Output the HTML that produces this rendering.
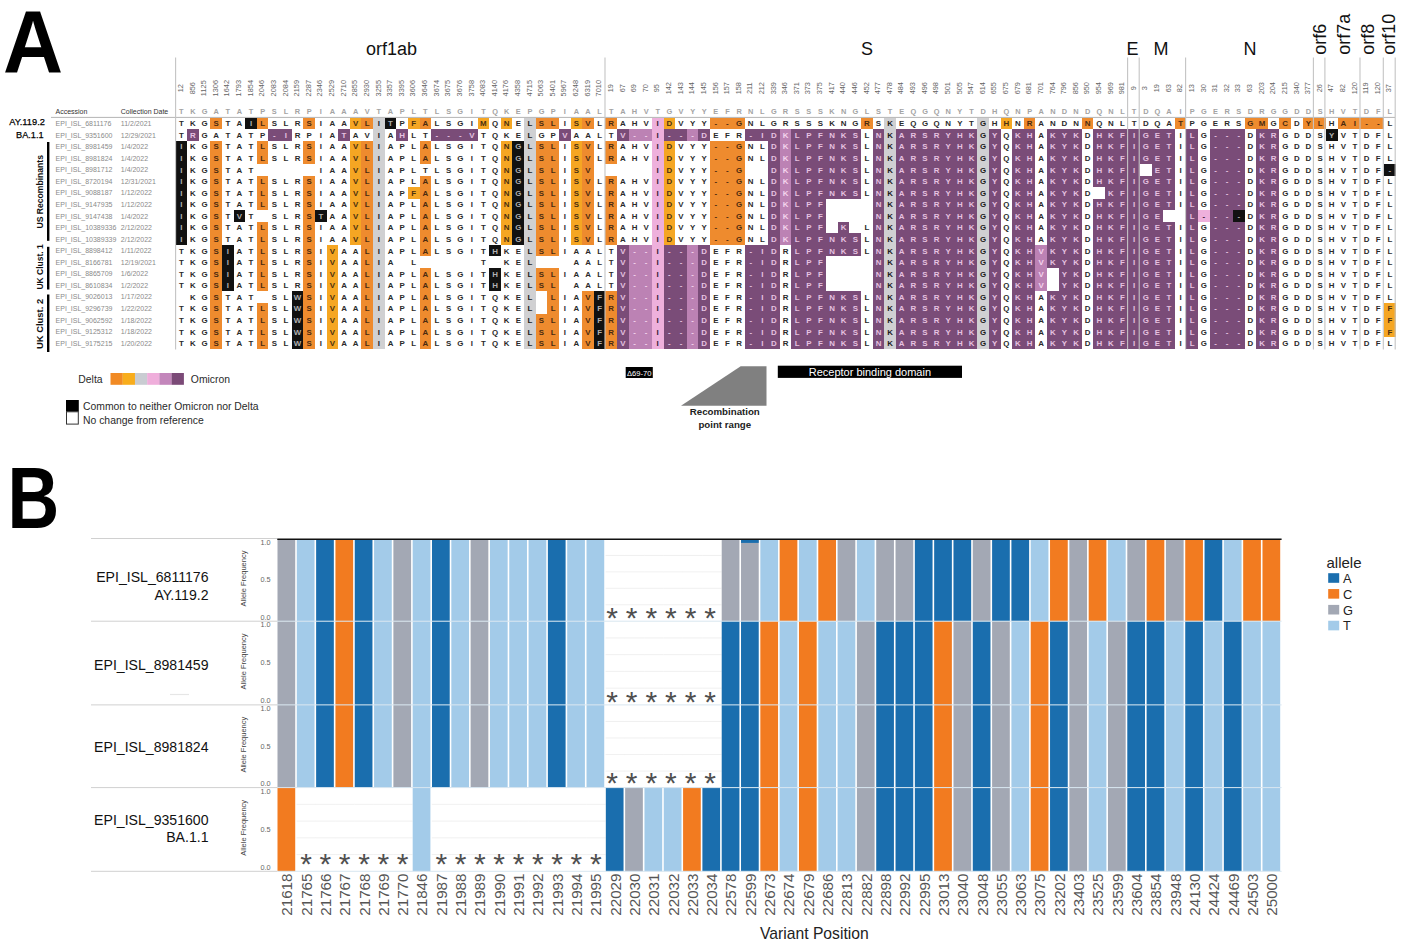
<!DOCTYPE html>
<html><head><meta charset="utf-8"><title>Figure</title>
<style>html,body{margin:0;padding:0;background:#fff;overflow:hidden;}svg{display:block;}text{font-family:"Liberation Sans", Arial, sans-serif;}</style></head><body>
<svg width="1404" height="945" viewBox="0 0 1404 945">
<rect x="0" y="0" width="1404" height="945" fill="#fff"/>
<text transform="translate(2.9 72.6) scale(0.935 1)" font-size="89" font-weight="bold" fill="#000">A</text>
<text transform="translate(7.5 528.4) scale(0.815 1)" font-size="87.9" font-weight="bold" fill="#000">B</text>
<rect x="210.36" y="117.70" width="11.62" height="11.56" fill="#ee8b2e" shape-rendering="crispEdges"/>
<rect x="245.22" y="117.70" width="11.62" height="11.56" fill="#111111" shape-rendering="crispEdges"/>
<rect x="256.84" y="117.70" width="11.62" height="11.56" fill="#ee8b2e" shape-rendering="crispEdges"/>
<rect x="303.32" y="117.70" width="11.62" height="11.56" fill="#ee8b2e" shape-rendering="crispEdges"/>
<rect x="349.80" y="117.70" width="11.62" height="11.56" fill="#f5a623" shape-rendering="crispEdges"/>
<rect x="361.42" y="117.70" width="11.62" height="11.56" fill="#ee8b2e" shape-rendering="crispEdges"/>
<rect x="373.04" y="117.70" width="11.62" height="11.56" fill="#d0d0d2" shape-rendering="crispEdges"/>
<rect x="384.66" y="117.70" width="11.62" height="11.56" fill="#111111" shape-rendering="crispEdges"/>
<rect x="407.90" y="117.70" width="11.62" height="11.56" fill="#f5a623" shape-rendering="crispEdges"/>
<rect x="419.52" y="117.70" width="11.62" height="11.56" fill="#ee8b2e" shape-rendering="crispEdges"/>
<rect x="477.62" y="117.70" width="11.62" height="11.56" fill="#f5a623" shape-rendering="crispEdges"/>
<rect x="500.86" y="117.70" width="11.62" height="11.56" fill="#f5a623" shape-rendering="crispEdges"/>
<rect x="524.10" y="117.70" width="11.62" height="11.56" fill="#d0d0d2" shape-rendering="crispEdges"/>
<rect x="535.72" y="117.70" width="23.24" height="11.56" fill="#ee8b2e" shape-rendering="crispEdges"/>
<rect x="570.58" y="117.70" width="11.62" height="11.56" fill="#f5a623" shape-rendering="crispEdges"/>
<rect x="582.20" y="117.70" width="11.62" height="11.56" fill="#ee8b2e" shape-rendering="crispEdges"/>
<rect x="605.44" y="117.70" width="11.62" height="11.56" fill="#ee8b2e" shape-rendering="crispEdges"/>
<rect x="651.92" y="117.70" width="11.62" height="11.56" fill="#eeb0dc" shape-rendering="crispEdges"/>
<rect x="663.54" y="117.70" width="11.62" height="11.56" fill="#f5a623" shape-rendering="crispEdges"/>
<rect x="710.02" y="117.70" width="34.86" height="11.56" fill="#ee8b2e" shape-rendering="crispEdges"/>
<rect x="861.08" y="117.70" width="11.62" height="11.56" fill="#ee8b2e" shape-rendering="crispEdges"/>
<rect x="884.32" y="117.70" width="11.62" height="11.56" fill="#d0d0d2" shape-rendering="crispEdges"/>
<rect x="977.28" y="117.70" width="11.62" height="11.56" fill="#d0d0d2" shape-rendering="crispEdges"/>
<rect x="1000.52" y="117.70" width="11.62" height="11.56" fill="#f5a623" shape-rendering="crispEdges"/>
<rect x="1023.76" y="117.70" width="11.62" height="11.56" fill="#ee8b2e" shape-rendering="crispEdges"/>
<rect x="1081.86" y="117.70" width="11.62" height="11.56" fill="#ee8b2e" shape-rendering="crispEdges"/>
<rect x="1174.82" y="117.70" width="11.62" height="11.56" fill="#ee8b2e" shape-rendering="crispEdges"/>
<rect x="1244.54" y="117.70" width="23.24" height="11.56" fill="#ee8b2e" shape-rendering="crispEdges"/>
<rect x="1279.40" y="117.70" width="11.62" height="11.56" fill="#ee8b2e" shape-rendering="crispEdges"/>
<rect x="1302.64" y="117.70" width="23.24" height="11.56" fill="#ee8b2e" shape-rendering="crispEdges"/>
<rect x="1337.50" y="117.70" width="46.48" height="11.56" fill="#ee8b2e" shape-rendering="crispEdges"/>
<rect x="187.12" y="129.27" width="11.62" height="11.56" fill="#7a4c78" shape-rendering="crispEdges"/>
<rect x="268.46" y="129.27" width="23.24" height="11.56" fill="#7a4c78" shape-rendering="crispEdges"/>
<rect x="338.18" y="129.27" width="11.62" height="11.56" fill="#7a4c78" shape-rendering="crispEdges"/>
<rect x="373.04" y="129.27" width="11.62" height="11.56" fill="#d0d0d2" shape-rendering="crispEdges"/>
<rect x="396.28" y="129.27" width="11.62" height="11.56" fill="#7a4c78" shape-rendering="crispEdges"/>
<rect x="431.14" y="129.27" width="46.48" height="11.56" fill="#7a4c78" shape-rendering="crispEdges"/>
<rect x="524.10" y="129.27" width="11.62" height="11.56" fill="#d0d0d2" shape-rendering="crispEdges"/>
<rect x="558.96" y="129.27" width="11.62" height="11.56" fill="#7a4c78" shape-rendering="crispEdges"/>
<rect x="617.06" y="129.27" width="11.62" height="11.56" fill="#7a4c78" shape-rendering="crispEdges"/>
<rect x="628.68" y="129.27" width="23.24" height="11.56" fill="#bc82b4" shape-rendering="crispEdges"/>
<rect x="651.92" y="129.27" width="11.62" height="11.56" fill="#eeb0dc" shape-rendering="crispEdges"/>
<rect x="663.54" y="129.27" width="23.24" height="11.56" fill="#7a4c78" shape-rendering="crispEdges"/>
<rect x="686.78" y="129.27" width="11.62" height="11.56" fill="#bc82b4" shape-rendering="crispEdges"/>
<rect x="698.40" y="129.27" width="11.62" height="11.56" fill="#7a4c78" shape-rendering="crispEdges"/>
<rect x="744.88" y="129.27" width="34.86" height="11.56" fill="#7a4c78" shape-rendering="crispEdges"/>
<rect x="779.74" y="129.27" width="11.62" height="11.56" fill="#bc82b4" shape-rendering="crispEdges"/>
<rect x="791.36" y="129.27" width="69.72" height="11.56" fill="#7a4c78" shape-rendering="crispEdges"/>
<rect x="872.70" y="129.27" width="11.62" height="11.56" fill="#7a4c78" shape-rendering="crispEdges"/>
<rect x="884.32" y="129.27" width="11.62" height="11.56" fill="#d0d0d2" shape-rendering="crispEdges"/>
<rect x="895.94" y="129.27" width="81.34" height="11.56" fill="#7a4c78" shape-rendering="crispEdges"/>
<rect x="977.28" y="129.27" width="11.62" height="11.56" fill="#d0d0d2" shape-rendering="crispEdges"/>
<rect x="988.90" y="129.27" width="11.62" height="11.56" fill="#7a4c78" shape-rendering="crispEdges"/>
<rect x="1012.14" y="129.27" width="23.24" height="11.56" fill="#7a4c78" shape-rendering="crispEdges"/>
<rect x="1047.00" y="129.27" width="34.86" height="11.56" fill="#7a4c78" shape-rendering="crispEdges"/>
<rect x="1093.48" y="129.27" width="81.34" height="11.56" fill="#7a4c78" shape-rendering="crispEdges"/>
<rect x="1186.44" y="129.27" width="11.62" height="11.56" fill="#7a4c78" shape-rendering="crispEdges"/>
<rect x="1209.68" y="129.27" width="34.86" height="11.56" fill="#7a4c78" shape-rendering="crispEdges"/>
<rect x="1256.16" y="129.27" width="23.24" height="11.56" fill="#7a4c78" shape-rendering="crispEdges"/>
<rect x="1325.88" y="129.27" width="11.62" height="11.56" fill="#111111" shape-rendering="crispEdges"/>
<rect x="175.50" y="140.83" width="11.62" height="11.56" fill="#111111" shape-rendering="crispEdges"/>
<rect x="210.36" y="140.83" width="11.62" height="11.56" fill="#ee8b2e" shape-rendering="crispEdges"/>
<rect x="256.84" y="140.83" width="11.62" height="11.56" fill="#ee8b2e" shape-rendering="crispEdges"/>
<rect x="303.32" y="140.83" width="11.62" height="11.56" fill="#ee8b2e" shape-rendering="crispEdges"/>
<rect x="349.80" y="140.83" width="11.62" height="11.56" fill="#f5a623" shape-rendering="crispEdges"/>
<rect x="361.42" y="140.83" width="11.62" height="11.56" fill="#ee8b2e" shape-rendering="crispEdges"/>
<rect x="373.04" y="140.83" width="11.62" height="11.56" fill="#d0d0d2" shape-rendering="crispEdges"/>
<rect x="419.52" y="140.83" width="11.62" height="11.56" fill="#ee8b2e" shape-rendering="crispEdges"/>
<rect x="500.86" y="140.83" width="11.62" height="11.56" fill="#f5a623" shape-rendering="crispEdges"/>
<rect x="512.48" y="140.83" width="11.62" height="11.56" fill="#111111" shape-rendering="crispEdges"/>
<rect x="524.10" y="140.83" width="11.62" height="11.56" fill="#d0d0d2" shape-rendering="crispEdges"/>
<rect x="535.72" y="140.83" width="23.24" height="11.56" fill="#ee8b2e" shape-rendering="crispEdges"/>
<rect x="570.58" y="140.83" width="11.62" height="11.56" fill="#f5a623" shape-rendering="crispEdges"/>
<rect x="582.20" y="140.83" width="11.62" height="11.56" fill="#ee8b2e" shape-rendering="crispEdges"/>
<rect x="605.44" y="140.83" width="11.62" height="11.56" fill="#ee8b2e" shape-rendering="crispEdges"/>
<rect x="651.92" y="140.83" width="11.62" height="11.56" fill="#eeb0dc" shape-rendering="crispEdges"/>
<rect x="663.54" y="140.83" width="11.62" height="11.56" fill="#f5a623" shape-rendering="crispEdges"/>
<rect x="710.02" y="140.83" width="34.86" height="11.56" fill="#ee8b2e" shape-rendering="crispEdges"/>
<rect x="768.12" y="140.83" width="11.62" height="11.56" fill="#7a4c78" shape-rendering="crispEdges"/>
<rect x="779.74" y="140.83" width="11.62" height="11.56" fill="#bc82b4" shape-rendering="crispEdges"/>
<rect x="791.36" y="140.83" width="69.72" height="11.56" fill="#7a4c78" shape-rendering="crispEdges"/>
<rect x="872.70" y="140.83" width="11.62" height="11.56" fill="#7a4c78" shape-rendering="crispEdges"/>
<rect x="884.32" y="140.83" width="11.62" height="11.56" fill="#d0d0d2" shape-rendering="crispEdges"/>
<rect x="895.94" y="140.83" width="81.34" height="11.56" fill="#7a4c78" shape-rendering="crispEdges"/>
<rect x="977.28" y="140.83" width="11.62" height="11.56" fill="#d0d0d2" shape-rendering="crispEdges"/>
<rect x="988.90" y="140.83" width="11.62" height="11.56" fill="#7a4c78" shape-rendering="crispEdges"/>
<rect x="1012.14" y="140.83" width="23.24" height="11.56" fill="#7a4c78" shape-rendering="crispEdges"/>
<rect x="1047.00" y="140.83" width="34.86" height="11.56" fill="#7a4c78" shape-rendering="crispEdges"/>
<rect x="1093.48" y="140.83" width="81.34" height="11.56" fill="#7a4c78" shape-rendering="crispEdges"/>
<rect x="1186.44" y="140.83" width="11.62" height="11.56" fill="#7a4c78" shape-rendering="crispEdges"/>
<rect x="1209.68" y="140.83" width="34.86" height="11.56" fill="#7a4c78" shape-rendering="crispEdges"/>
<rect x="1256.16" y="140.83" width="23.24" height="11.56" fill="#7a4c78" shape-rendering="crispEdges"/>
<rect x="175.50" y="152.40" width="11.62" height="11.56" fill="#111111" shape-rendering="crispEdges"/>
<rect x="210.36" y="152.40" width="11.62" height="11.56" fill="#ee8b2e" shape-rendering="crispEdges"/>
<rect x="256.84" y="152.40" width="11.62" height="11.56" fill="#ee8b2e" shape-rendering="crispEdges"/>
<rect x="303.32" y="152.40" width="11.62" height="11.56" fill="#ee8b2e" shape-rendering="crispEdges"/>
<rect x="349.80" y="152.40" width="11.62" height="11.56" fill="#f5a623" shape-rendering="crispEdges"/>
<rect x="361.42" y="152.40" width="11.62" height="11.56" fill="#ee8b2e" shape-rendering="crispEdges"/>
<rect x="373.04" y="152.40" width="11.62" height="11.56" fill="#d0d0d2" shape-rendering="crispEdges"/>
<rect x="419.52" y="152.40" width="11.62" height="11.56" fill="#ee8b2e" shape-rendering="crispEdges"/>
<rect x="500.86" y="152.40" width="11.62" height="11.56" fill="#f5a623" shape-rendering="crispEdges"/>
<rect x="512.48" y="152.40" width="11.62" height="11.56" fill="#111111" shape-rendering="crispEdges"/>
<rect x="524.10" y="152.40" width="11.62" height="11.56" fill="#d0d0d2" shape-rendering="crispEdges"/>
<rect x="535.72" y="152.40" width="23.24" height="11.56" fill="#ee8b2e" shape-rendering="crispEdges"/>
<rect x="570.58" y="152.40" width="11.62" height="11.56" fill="#f5a623" shape-rendering="crispEdges"/>
<rect x="582.20" y="152.40" width="11.62" height="11.56" fill="#ee8b2e" shape-rendering="crispEdges"/>
<rect x="605.44" y="152.40" width="11.62" height="11.56" fill="#ee8b2e" shape-rendering="crispEdges"/>
<rect x="651.92" y="152.40" width="11.62" height="11.56" fill="#eeb0dc" shape-rendering="crispEdges"/>
<rect x="663.54" y="152.40" width="11.62" height="11.56" fill="#f5a623" shape-rendering="crispEdges"/>
<rect x="710.02" y="152.40" width="34.86" height="11.56" fill="#ee8b2e" shape-rendering="crispEdges"/>
<rect x="768.12" y="152.40" width="11.62" height="11.56" fill="#7a4c78" shape-rendering="crispEdges"/>
<rect x="779.74" y="152.40" width="11.62" height="11.56" fill="#bc82b4" shape-rendering="crispEdges"/>
<rect x="791.36" y="152.40" width="69.72" height="11.56" fill="#7a4c78" shape-rendering="crispEdges"/>
<rect x="872.70" y="152.40" width="11.62" height="11.56" fill="#7a4c78" shape-rendering="crispEdges"/>
<rect x="884.32" y="152.40" width="11.62" height="11.56" fill="#d0d0d2" shape-rendering="crispEdges"/>
<rect x="895.94" y="152.40" width="81.34" height="11.56" fill="#7a4c78" shape-rendering="crispEdges"/>
<rect x="977.28" y="152.40" width="11.62" height="11.56" fill="#d0d0d2" shape-rendering="crispEdges"/>
<rect x="988.90" y="152.40" width="11.62" height="11.56" fill="#7a4c78" shape-rendering="crispEdges"/>
<rect x="1012.14" y="152.40" width="23.24" height="11.56" fill="#7a4c78" shape-rendering="crispEdges"/>
<rect x="1047.00" y="152.40" width="34.86" height="11.56" fill="#7a4c78" shape-rendering="crispEdges"/>
<rect x="1093.48" y="152.40" width="81.34" height="11.56" fill="#7a4c78" shape-rendering="crispEdges"/>
<rect x="1186.44" y="152.40" width="11.62" height="11.56" fill="#7a4c78" shape-rendering="crispEdges"/>
<rect x="1209.68" y="152.40" width="34.86" height="11.56" fill="#7a4c78" shape-rendering="crispEdges"/>
<rect x="1256.16" y="152.40" width="23.24" height="11.56" fill="#7a4c78" shape-rendering="crispEdges"/>
<rect x="175.50" y="163.96" width="11.62" height="11.56" fill="#111111" shape-rendering="crispEdges"/>
<rect x="210.36" y="163.96" width="11.62" height="11.56" fill="#ee8b2e" shape-rendering="crispEdges"/>
<rect x="349.80" y="163.96" width="11.62" height="11.56" fill="#f5a623" shape-rendering="crispEdges"/>
<rect x="361.42" y="163.96" width="11.62" height="11.56" fill="#ee8b2e" shape-rendering="crispEdges"/>
<rect x="373.04" y="163.96" width="11.62" height="11.56" fill="#d0d0d2" shape-rendering="crispEdges"/>
<rect x="500.86" y="163.96" width="11.62" height="11.56" fill="#f5a623" shape-rendering="crispEdges"/>
<rect x="512.48" y="163.96" width="11.62" height="11.56" fill="#111111" shape-rendering="crispEdges"/>
<rect x="524.10" y="163.96" width="11.62" height="11.56" fill="#d0d0d2" shape-rendering="crispEdges"/>
<rect x="535.72" y="163.96" width="23.24" height="11.56" fill="#ee8b2e" shape-rendering="crispEdges"/>
<rect x="570.58" y="163.96" width="11.62" height="11.56" fill="#f5a623" shape-rendering="crispEdges"/>
<rect x="582.20" y="163.96" width="11.62" height="11.56" fill="#ee8b2e" shape-rendering="crispEdges"/>
<rect x="651.92" y="163.96" width="11.62" height="11.56" fill="#eeb0dc" shape-rendering="crispEdges"/>
<rect x="663.54" y="163.96" width="11.62" height="11.56" fill="#f5a623" shape-rendering="crispEdges"/>
<rect x="710.02" y="163.96" width="34.86" height="11.56" fill="#ee8b2e" shape-rendering="crispEdges"/>
<rect x="768.12" y="163.96" width="11.62" height="11.56" fill="#7a4c78" shape-rendering="crispEdges"/>
<rect x="779.74" y="163.96" width="11.62" height="11.56" fill="#bc82b4" shape-rendering="crispEdges"/>
<rect x="791.36" y="163.96" width="69.72" height="11.56" fill="#7a4c78" shape-rendering="crispEdges"/>
<rect x="872.70" y="163.96" width="11.62" height="11.56" fill="#7a4c78" shape-rendering="crispEdges"/>
<rect x="884.32" y="163.96" width="11.62" height="11.56" fill="#d0d0d2" shape-rendering="crispEdges"/>
<rect x="895.94" y="163.96" width="81.34" height="11.56" fill="#7a4c78" shape-rendering="crispEdges"/>
<rect x="977.28" y="163.96" width="11.62" height="11.56" fill="#d0d0d2" shape-rendering="crispEdges"/>
<rect x="988.90" y="163.96" width="11.62" height="11.56" fill="#7a4c78" shape-rendering="crispEdges"/>
<rect x="1012.14" y="163.96" width="23.24" height="11.56" fill="#7a4c78" shape-rendering="crispEdges"/>
<rect x="1047.00" y="163.96" width="34.86" height="11.56" fill="#7a4c78" shape-rendering="crispEdges"/>
<rect x="1093.48" y="163.96" width="46.48" height="11.56" fill="#7a4c78" shape-rendering="crispEdges"/>
<rect x="1151.58" y="163.96" width="23.24" height="11.56" fill="#7a4c78" shape-rendering="crispEdges"/>
<rect x="1186.44" y="163.96" width="11.62" height="11.56" fill="#7a4c78" shape-rendering="crispEdges"/>
<rect x="1209.68" y="163.96" width="34.86" height="11.56" fill="#7a4c78" shape-rendering="crispEdges"/>
<rect x="1256.16" y="163.96" width="23.24" height="11.56" fill="#7a4c78" shape-rendering="crispEdges"/>
<rect x="1383.98" y="163.96" width="11.62" height="11.56" fill="#111111" shape-rendering="crispEdges"/>
<rect x="175.50" y="175.53" width="11.62" height="11.56" fill="#111111" shape-rendering="crispEdges"/>
<rect x="210.36" y="175.53" width="11.62" height="11.56" fill="#ee8b2e" shape-rendering="crispEdges"/>
<rect x="256.84" y="175.53" width="11.62" height="11.56" fill="#ee8b2e" shape-rendering="crispEdges"/>
<rect x="303.32" y="175.53" width="11.62" height="11.56" fill="#ee8b2e" shape-rendering="crispEdges"/>
<rect x="349.80" y="175.53" width="11.62" height="11.56" fill="#f5a623" shape-rendering="crispEdges"/>
<rect x="361.42" y="175.53" width="11.62" height="11.56" fill="#ee8b2e" shape-rendering="crispEdges"/>
<rect x="373.04" y="175.53" width="11.62" height="11.56" fill="#d0d0d2" shape-rendering="crispEdges"/>
<rect x="419.52" y="175.53" width="11.62" height="11.56" fill="#ee8b2e" shape-rendering="crispEdges"/>
<rect x="500.86" y="175.53" width="11.62" height="11.56" fill="#f5a623" shape-rendering="crispEdges"/>
<rect x="512.48" y="175.53" width="11.62" height="11.56" fill="#111111" shape-rendering="crispEdges"/>
<rect x="524.10" y="175.53" width="11.62" height="11.56" fill="#d0d0d2" shape-rendering="crispEdges"/>
<rect x="535.72" y="175.53" width="23.24" height="11.56" fill="#ee8b2e" shape-rendering="crispEdges"/>
<rect x="570.58" y="175.53" width="11.62" height="11.56" fill="#f5a623" shape-rendering="crispEdges"/>
<rect x="582.20" y="175.53" width="11.62" height="11.56" fill="#ee8b2e" shape-rendering="crispEdges"/>
<rect x="605.44" y="175.53" width="11.62" height="11.56" fill="#ee8b2e" shape-rendering="crispEdges"/>
<rect x="651.92" y="175.53" width="11.62" height="11.56" fill="#eeb0dc" shape-rendering="crispEdges"/>
<rect x="663.54" y="175.53" width="11.62" height="11.56" fill="#f5a623" shape-rendering="crispEdges"/>
<rect x="710.02" y="175.53" width="34.86" height="11.56" fill="#ee8b2e" shape-rendering="crispEdges"/>
<rect x="768.12" y="175.53" width="11.62" height="11.56" fill="#7a4c78" shape-rendering="crispEdges"/>
<rect x="779.74" y="175.53" width="11.62" height="11.56" fill="#bc82b4" shape-rendering="crispEdges"/>
<rect x="791.36" y="175.53" width="69.72" height="11.56" fill="#7a4c78" shape-rendering="crispEdges"/>
<rect x="872.70" y="175.53" width="11.62" height="11.56" fill="#7a4c78" shape-rendering="crispEdges"/>
<rect x="884.32" y="175.53" width="11.62" height="11.56" fill="#d0d0d2" shape-rendering="crispEdges"/>
<rect x="895.94" y="175.53" width="81.34" height="11.56" fill="#7a4c78" shape-rendering="crispEdges"/>
<rect x="977.28" y="175.53" width="11.62" height="11.56" fill="#d0d0d2" shape-rendering="crispEdges"/>
<rect x="988.90" y="175.53" width="11.62" height="11.56" fill="#7a4c78" shape-rendering="crispEdges"/>
<rect x="1012.14" y="175.53" width="23.24" height="11.56" fill="#7a4c78" shape-rendering="crispEdges"/>
<rect x="1047.00" y="175.53" width="34.86" height="11.56" fill="#7a4c78" shape-rendering="crispEdges"/>
<rect x="1093.48" y="175.53" width="81.34" height="11.56" fill="#7a4c78" shape-rendering="crispEdges"/>
<rect x="1186.44" y="175.53" width="11.62" height="11.56" fill="#7a4c78" shape-rendering="crispEdges"/>
<rect x="1209.68" y="175.53" width="34.86" height="11.56" fill="#7a4c78" shape-rendering="crispEdges"/>
<rect x="1256.16" y="175.53" width="23.24" height="11.56" fill="#7a4c78" shape-rendering="crispEdges"/>
<rect x="175.50" y="187.09" width="11.62" height="11.56" fill="#111111" shape-rendering="crispEdges"/>
<rect x="210.36" y="187.09" width="11.62" height="11.56" fill="#ee8b2e" shape-rendering="crispEdges"/>
<rect x="256.84" y="187.09" width="11.62" height="11.56" fill="#ee8b2e" shape-rendering="crispEdges"/>
<rect x="303.32" y="187.09" width="11.62" height="11.56" fill="#ee8b2e" shape-rendering="crispEdges"/>
<rect x="349.80" y="187.09" width="11.62" height="11.56" fill="#f5a623" shape-rendering="crispEdges"/>
<rect x="361.42" y="187.09" width="11.62" height="11.56" fill="#ee8b2e" shape-rendering="crispEdges"/>
<rect x="373.04" y="187.09" width="11.62" height="11.56" fill="#d0d0d2" shape-rendering="crispEdges"/>
<rect x="407.90" y="187.09" width="11.62" height="11.56" fill="#f5a623" shape-rendering="crispEdges"/>
<rect x="419.52" y="187.09" width="11.62" height="11.56" fill="#ee8b2e" shape-rendering="crispEdges"/>
<rect x="500.86" y="187.09" width="11.62" height="11.56" fill="#f5a623" shape-rendering="crispEdges"/>
<rect x="512.48" y="187.09" width="11.62" height="11.56" fill="#111111" shape-rendering="crispEdges"/>
<rect x="524.10" y="187.09" width="11.62" height="11.56" fill="#d0d0d2" shape-rendering="crispEdges"/>
<rect x="535.72" y="187.09" width="23.24" height="11.56" fill="#ee8b2e" shape-rendering="crispEdges"/>
<rect x="570.58" y="187.09" width="11.62" height="11.56" fill="#f5a623" shape-rendering="crispEdges"/>
<rect x="582.20" y="187.09" width="11.62" height="11.56" fill="#ee8b2e" shape-rendering="crispEdges"/>
<rect x="605.44" y="187.09" width="11.62" height="11.56" fill="#ee8b2e" shape-rendering="crispEdges"/>
<rect x="651.92" y="187.09" width="11.62" height="11.56" fill="#eeb0dc" shape-rendering="crispEdges"/>
<rect x="663.54" y="187.09" width="11.62" height="11.56" fill="#f5a623" shape-rendering="crispEdges"/>
<rect x="710.02" y="187.09" width="34.86" height="11.56" fill="#ee8b2e" shape-rendering="crispEdges"/>
<rect x="768.12" y="187.09" width="11.62" height="11.56" fill="#7a4c78" shape-rendering="crispEdges"/>
<rect x="779.74" y="187.09" width="11.62" height="11.56" fill="#bc82b4" shape-rendering="crispEdges"/>
<rect x="791.36" y="187.09" width="69.72" height="11.56" fill="#7a4c78" shape-rendering="crispEdges"/>
<rect x="872.70" y="187.09" width="11.62" height="11.56" fill="#7a4c78" shape-rendering="crispEdges"/>
<rect x="884.32" y="187.09" width="11.62" height="11.56" fill="#d0d0d2" shape-rendering="crispEdges"/>
<rect x="895.94" y="187.09" width="81.34" height="11.56" fill="#7a4c78" shape-rendering="crispEdges"/>
<rect x="977.28" y="187.09" width="11.62" height="11.56" fill="#d0d0d2" shape-rendering="crispEdges"/>
<rect x="988.90" y="187.09" width="11.62" height="11.56" fill="#7a4c78" shape-rendering="crispEdges"/>
<rect x="1012.14" y="187.09" width="23.24" height="11.56" fill="#7a4c78" shape-rendering="crispEdges"/>
<rect x="1047.00" y="187.09" width="34.86" height="11.56" fill="#7a4c78" shape-rendering="crispEdges"/>
<rect x="1105.10" y="187.09" width="69.72" height="11.56" fill="#7a4c78" shape-rendering="crispEdges"/>
<rect x="1186.44" y="187.09" width="11.62" height="11.56" fill="#7a4c78" shape-rendering="crispEdges"/>
<rect x="1209.68" y="187.09" width="34.86" height="11.56" fill="#7a4c78" shape-rendering="crispEdges"/>
<rect x="1256.16" y="187.09" width="23.24" height="11.56" fill="#7a4c78" shape-rendering="crispEdges"/>
<rect x="175.50" y="198.66" width="11.62" height="11.56" fill="#111111" shape-rendering="crispEdges"/>
<rect x="210.36" y="198.66" width="11.62" height="11.56" fill="#ee8b2e" shape-rendering="crispEdges"/>
<rect x="256.84" y="198.66" width="11.62" height="11.56" fill="#ee8b2e" shape-rendering="crispEdges"/>
<rect x="303.32" y="198.66" width="11.62" height="11.56" fill="#ee8b2e" shape-rendering="crispEdges"/>
<rect x="349.80" y="198.66" width="11.62" height="11.56" fill="#f5a623" shape-rendering="crispEdges"/>
<rect x="361.42" y="198.66" width="11.62" height="11.56" fill="#ee8b2e" shape-rendering="crispEdges"/>
<rect x="373.04" y="198.66" width="11.62" height="11.56" fill="#d0d0d2" shape-rendering="crispEdges"/>
<rect x="419.52" y="198.66" width="11.62" height="11.56" fill="#ee8b2e" shape-rendering="crispEdges"/>
<rect x="500.86" y="198.66" width="11.62" height="11.56" fill="#f5a623" shape-rendering="crispEdges"/>
<rect x="512.48" y="198.66" width="11.62" height="11.56" fill="#111111" shape-rendering="crispEdges"/>
<rect x="524.10" y="198.66" width="11.62" height="11.56" fill="#d0d0d2" shape-rendering="crispEdges"/>
<rect x="535.72" y="198.66" width="23.24" height="11.56" fill="#ee8b2e" shape-rendering="crispEdges"/>
<rect x="570.58" y="198.66" width="11.62" height="11.56" fill="#f5a623" shape-rendering="crispEdges"/>
<rect x="582.20" y="198.66" width="11.62" height="11.56" fill="#ee8b2e" shape-rendering="crispEdges"/>
<rect x="605.44" y="198.66" width="11.62" height="11.56" fill="#ee8b2e" shape-rendering="crispEdges"/>
<rect x="651.92" y="198.66" width="11.62" height="11.56" fill="#eeb0dc" shape-rendering="crispEdges"/>
<rect x="663.54" y="198.66" width="11.62" height="11.56" fill="#f5a623" shape-rendering="crispEdges"/>
<rect x="710.02" y="198.66" width="34.86" height="11.56" fill="#ee8b2e" shape-rendering="crispEdges"/>
<rect x="768.12" y="198.66" width="11.62" height="11.56" fill="#7a4c78" shape-rendering="crispEdges"/>
<rect x="779.74" y="198.66" width="11.62" height="11.56" fill="#bc82b4" shape-rendering="crispEdges"/>
<rect x="791.36" y="198.66" width="34.86" height="11.56" fill="#7a4c78" shape-rendering="crispEdges"/>
<rect x="872.70" y="198.66" width="11.62" height="11.56" fill="#7a4c78" shape-rendering="crispEdges"/>
<rect x="884.32" y="198.66" width="11.62" height="11.56" fill="#d0d0d2" shape-rendering="crispEdges"/>
<rect x="895.94" y="198.66" width="81.34" height="11.56" fill="#7a4c78" shape-rendering="crispEdges"/>
<rect x="977.28" y="198.66" width="11.62" height="11.56" fill="#d0d0d2" shape-rendering="crispEdges"/>
<rect x="988.90" y="198.66" width="11.62" height="11.56" fill="#7a4c78" shape-rendering="crispEdges"/>
<rect x="1012.14" y="198.66" width="23.24" height="11.56" fill="#7a4c78" shape-rendering="crispEdges"/>
<rect x="1047.00" y="198.66" width="34.86" height="11.56" fill="#7a4c78" shape-rendering="crispEdges"/>
<rect x="1093.48" y="198.66" width="81.34" height="11.56" fill="#7a4c78" shape-rendering="crispEdges"/>
<rect x="1186.44" y="198.66" width="11.62" height="11.56" fill="#7a4c78" shape-rendering="crispEdges"/>
<rect x="1209.68" y="198.66" width="34.86" height="11.56" fill="#7a4c78" shape-rendering="crispEdges"/>
<rect x="1256.16" y="198.66" width="23.24" height="11.56" fill="#7a4c78" shape-rendering="crispEdges"/>
<rect x="175.50" y="210.22" width="11.62" height="11.56" fill="#111111" shape-rendering="crispEdges"/>
<rect x="210.36" y="210.22" width="11.62" height="11.56" fill="#ee8b2e" shape-rendering="crispEdges"/>
<rect x="233.60" y="210.22" width="11.62" height="11.56" fill="#111111" shape-rendering="crispEdges"/>
<rect x="303.32" y="210.22" width="11.62" height="11.56" fill="#ee8b2e" shape-rendering="crispEdges"/>
<rect x="314.94" y="210.22" width="11.62" height="11.56" fill="#111111" shape-rendering="crispEdges"/>
<rect x="349.80" y="210.22" width="11.62" height="11.56" fill="#f5a623" shape-rendering="crispEdges"/>
<rect x="361.42" y="210.22" width="11.62" height="11.56" fill="#ee8b2e" shape-rendering="crispEdges"/>
<rect x="373.04" y="210.22" width="11.62" height="11.56" fill="#d0d0d2" shape-rendering="crispEdges"/>
<rect x="419.52" y="210.22" width="11.62" height="11.56" fill="#ee8b2e" shape-rendering="crispEdges"/>
<rect x="500.86" y="210.22" width="11.62" height="11.56" fill="#f5a623" shape-rendering="crispEdges"/>
<rect x="512.48" y="210.22" width="11.62" height="11.56" fill="#111111" shape-rendering="crispEdges"/>
<rect x="524.10" y="210.22" width="11.62" height="11.56" fill="#d0d0d2" shape-rendering="crispEdges"/>
<rect x="535.72" y="210.22" width="23.24" height="11.56" fill="#ee8b2e" shape-rendering="crispEdges"/>
<rect x="570.58" y="210.22" width="11.62" height="11.56" fill="#f5a623" shape-rendering="crispEdges"/>
<rect x="582.20" y="210.22" width="11.62" height="11.56" fill="#ee8b2e" shape-rendering="crispEdges"/>
<rect x="605.44" y="210.22" width="11.62" height="11.56" fill="#ee8b2e" shape-rendering="crispEdges"/>
<rect x="651.92" y="210.22" width="11.62" height="11.56" fill="#eeb0dc" shape-rendering="crispEdges"/>
<rect x="663.54" y="210.22" width="11.62" height="11.56" fill="#f5a623" shape-rendering="crispEdges"/>
<rect x="710.02" y="210.22" width="34.86" height="11.56" fill="#ee8b2e" shape-rendering="crispEdges"/>
<rect x="768.12" y="210.22" width="11.62" height="11.56" fill="#7a4c78" shape-rendering="crispEdges"/>
<rect x="779.74" y="210.22" width="11.62" height="11.56" fill="#bc82b4" shape-rendering="crispEdges"/>
<rect x="791.36" y="210.22" width="34.86" height="11.56" fill="#7a4c78" shape-rendering="crispEdges"/>
<rect x="872.70" y="210.22" width="11.62" height="11.56" fill="#7a4c78" shape-rendering="crispEdges"/>
<rect x="884.32" y="210.22" width="11.62" height="11.56" fill="#d0d0d2" shape-rendering="crispEdges"/>
<rect x="895.94" y="210.22" width="81.34" height="11.56" fill="#7a4c78" shape-rendering="crispEdges"/>
<rect x="977.28" y="210.22" width="11.62" height="11.56" fill="#d0d0d2" shape-rendering="crispEdges"/>
<rect x="988.90" y="210.22" width="11.62" height="11.56" fill="#7a4c78" shape-rendering="crispEdges"/>
<rect x="1012.14" y="210.22" width="23.24" height="11.56" fill="#7a4c78" shape-rendering="crispEdges"/>
<rect x="1047.00" y="210.22" width="34.86" height="11.56" fill="#7a4c78" shape-rendering="crispEdges"/>
<rect x="1093.48" y="210.22" width="69.72" height="11.56" fill="#7a4c78" shape-rendering="crispEdges"/>
<rect x="1186.44" y="210.22" width="11.62" height="11.56" fill="#7a4c78" shape-rendering="crispEdges"/>
<rect x="1198.06" y="210.22" width="11.62" height="11.56" fill="#eeb0dc" shape-rendering="crispEdges"/>
<rect x="1209.68" y="210.22" width="23.24" height="11.56" fill="#7a4c78" shape-rendering="crispEdges"/>
<rect x="1232.92" y="210.22" width="11.62" height="11.56" fill="#111111" shape-rendering="crispEdges"/>
<rect x="1256.16" y="210.22" width="23.24" height="11.56" fill="#7a4c78" shape-rendering="crispEdges"/>
<rect x="175.50" y="221.78" width="11.62" height="11.56" fill="#111111" shape-rendering="crispEdges"/>
<rect x="210.36" y="221.78" width="11.62" height="11.56" fill="#ee8b2e" shape-rendering="crispEdges"/>
<rect x="256.84" y="221.78" width="11.62" height="11.56" fill="#ee8b2e" shape-rendering="crispEdges"/>
<rect x="303.32" y="221.78" width="11.62" height="11.56" fill="#ee8b2e" shape-rendering="crispEdges"/>
<rect x="349.80" y="221.78" width="11.62" height="11.56" fill="#f5a623" shape-rendering="crispEdges"/>
<rect x="361.42" y="221.78" width="11.62" height="11.56" fill="#ee8b2e" shape-rendering="crispEdges"/>
<rect x="373.04" y="221.78" width="11.62" height="11.56" fill="#d0d0d2" shape-rendering="crispEdges"/>
<rect x="419.52" y="221.78" width="11.62" height="11.56" fill="#ee8b2e" shape-rendering="crispEdges"/>
<rect x="500.86" y="221.78" width="11.62" height="11.56" fill="#f5a623" shape-rendering="crispEdges"/>
<rect x="512.48" y="221.78" width="11.62" height="11.56" fill="#111111" shape-rendering="crispEdges"/>
<rect x="524.10" y="221.78" width="11.62" height="11.56" fill="#d0d0d2" shape-rendering="crispEdges"/>
<rect x="535.72" y="221.78" width="23.24" height="11.56" fill="#ee8b2e" shape-rendering="crispEdges"/>
<rect x="570.58" y="221.78" width="11.62" height="11.56" fill="#f5a623" shape-rendering="crispEdges"/>
<rect x="582.20" y="221.78" width="11.62" height="11.56" fill="#ee8b2e" shape-rendering="crispEdges"/>
<rect x="605.44" y="221.78" width="11.62" height="11.56" fill="#ee8b2e" shape-rendering="crispEdges"/>
<rect x="651.92" y="221.78" width="11.62" height="11.56" fill="#eeb0dc" shape-rendering="crispEdges"/>
<rect x="663.54" y="221.78" width="11.62" height="11.56" fill="#f5a623" shape-rendering="crispEdges"/>
<rect x="710.02" y="221.78" width="34.86" height="11.56" fill="#ee8b2e" shape-rendering="crispEdges"/>
<rect x="768.12" y="221.78" width="11.62" height="11.56" fill="#7a4c78" shape-rendering="crispEdges"/>
<rect x="779.74" y="221.78" width="11.62" height="11.56" fill="#bc82b4" shape-rendering="crispEdges"/>
<rect x="791.36" y="221.78" width="34.86" height="11.56" fill="#7a4c78" shape-rendering="crispEdges"/>
<rect x="837.84" y="221.78" width="11.62" height="11.56" fill="#7a4c78" shape-rendering="crispEdges"/>
<rect x="872.70" y="221.78" width="11.62" height="11.56" fill="#7a4c78" shape-rendering="crispEdges"/>
<rect x="884.32" y="221.78" width="11.62" height="11.56" fill="#d0d0d2" shape-rendering="crispEdges"/>
<rect x="895.94" y="221.78" width="81.34" height="11.56" fill="#7a4c78" shape-rendering="crispEdges"/>
<rect x="977.28" y="221.78" width="11.62" height="11.56" fill="#d0d0d2" shape-rendering="crispEdges"/>
<rect x="988.90" y="221.78" width="11.62" height="11.56" fill="#7a4c78" shape-rendering="crispEdges"/>
<rect x="1012.14" y="221.78" width="23.24" height="11.56" fill="#7a4c78" shape-rendering="crispEdges"/>
<rect x="1047.00" y="221.78" width="34.86" height="11.56" fill="#7a4c78" shape-rendering="crispEdges"/>
<rect x="1093.48" y="221.78" width="81.34" height="11.56" fill="#7a4c78" shape-rendering="crispEdges"/>
<rect x="1186.44" y="221.78" width="11.62" height="11.56" fill="#7a4c78" shape-rendering="crispEdges"/>
<rect x="1209.68" y="221.78" width="34.86" height="11.56" fill="#7a4c78" shape-rendering="crispEdges"/>
<rect x="1256.16" y="221.78" width="23.24" height="11.56" fill="#7a4c78" shape-rendering="crispEdges"/>
<rect x="175.50" y="233.35" width="11.62" height="11.56" fill="#111111" shape-rendering="crispEdges"/>
<rect x="210.36" y="233.35" width="11.62" height="11.56" fill="#ee8b2e" shape-rendering="crispEdges"/>
<rect x="256.84" y="233.35" width="11.62" height="11.56" fill="#ee8b2e" shape-rendering="crispEdges"/>
<rect x="303.32" y="233.35" width="11.62" height="11.56" fill="#ee8b2e" shape-rendering="crispEdges"/>
<rect x="349.80" y="233.35" width="11.62" height="11.56" fill="#f5a623" shape-rendering="crispEdges"/>
<rect x="361.42" y="233.35" width="11.62" height="11.56" fill="#ee8b2e" shape-rendering="crispEdges"/>
<rect x="373.04" y="233.35" width="11.62" height="11.56" fill="#d0d0d2" shape-rendering="crispEdges"/>
<rect x="419.52" y="233.35" width="11.62" height="11.56" fill="#ee8b2e" shape-rendering="crispEdges"/>
<rect x="500.86" y="233.35" width="11.62" height="11.56" fill="#f5a623" shape-rendering="crispEdges"/>
<rect x="512.48" y="233.35" width="11.62" height="11.56" fill="#111111" shape-rendering="crispEdges"/>
<rect x="524.10" y="233.35" width="11.62" height="11.56" fill="#d0d0d2" shape-rendering="crispEdges"/>
<rect x="535.72" y="233.35" width="23.24" height="11.56" fill="#ee8b2e" shape-rendering="crispEdges"/>
<rect x="570.58" y="233.35" width="11.62" height="11.56" fill="#f5a623" shape-rendering="crispEdges"/>
<rect x="582.20" y="233.35" width="11.62" height="11.56" fill="#ee8b2e" shape-rendering="crispEdges"/>
<rect x="605.44" y="233.35" width="11.62" height="11.56" fill="#ee8b2e" shape-rendering="crispEdges"/>
<rect x="651.92" y="233.35" width="11.62" height="11.56" fill="#eeb0dc" shape-rendering="crispEdges"/>
<rect x="663.54" y="233.35" width="11.62" height="11.56" fill="#f5a623" shape-rendering="crispEdges"/>
<rect x="710.02" y="233.35" width="34.86" height="11.56" fill="#ee8b2e" shape-rendering="crispEdges"/>
<rect x="768.12" y="233.35" width="11.62" height="11.56" fill="#7a4c78" shape-rendering="crispEdges"/>
<rect x="779.74" y="233.35" width="11.62" height="11.56" fill="#bc82b4" shape-rendering="crispEdges"/>
<rect x="791.36" y="233.35" width="69.72" height="11.56" fill="#7a4c78" shape-rendering="crispEdges"/>
<rect x="872.70" y="233.35" width="11.62" height="11.56" fill="#7a4c78" shape-rendering="crispEdges"/>
<rect x="884.32" y="233.35" width="11.62" height="11.56" fill="#d0d0d2" shape-rendering="crispEdges"/>
<rect x="895.94" y="233.35" width="81.34" height="11.56" fill="#7a4c78" shape-rendering="crispEdges"/>
<rect x="977.28" y="233.35" width="11.62" height="11.56" fill="#d0d0d2" shape-rendering="crispEdges"/>
<rect x="988.90" y="233.35" width="11.62" height="11.56" fill="#7a4c78" shape-rendering="crispEdges"/>
<rect x="1012.14" y="233.35" width="23.24" height="11.56" fill="#7a4c78" shape-rendering="crispEdges"/>
<rect x="1047.00" y="233.35" width="34.86" height="11.56" fill="#7a4c78" shape-rendering="crispEdges"/>
<rect x="1093.48" y="233.35" width="81.34" height="11.56" fill="#7a4c78" shape-rendering="crispEdges"/>
<rect x="1186.44" y="233.35" width="11.62" height="11.56" fill="#7a4c78" shape-rendering="crispEdges"/>
<rect x="1209.68" y="233.35" width="34.86" height="11.56" fill="#7a4c78" shape-rendering="crispEdges"/>
<rect x="1256.16" y="233.35" width="23.24" height="11.56" fill="#7a4c78" shape-rendering="crispEdges"/>
<rect x="210.36" y="244.91" width="11.62" height="11.56" fill="#ee8b2e" shape-rendering="crispEdges"/>
<rect x="221.98" y="244.91" width="11.62" height="11.56" fill="#111111" shape-rendering="crispEdges"/>
<rect x="256.84" y="244.91" width="11.62" height="11.56" fill="#ee8b2e" shape-rendering="crispEdges"/>
<rect x="303.32" y="244.91" width="11.62" height="11.56" fill="#ee8b2e" shape-rendering="crispEdges"/>
<rect x="326.56" y="244.91" width="11.62" height="11.56" fill="#f5a623" shape-rendering="crispEdges"/>
<rect x="361.42" y="244.91" width="11.62" height="11.56" fill="#ee8b2e" shape-rendering="crispEdges"/>
<rect x="373.04" y="244.91" width="11.62" height="11.56" fill="#d0d0d2" shape-rendering="crispEdges"/>
<rect x="419.52" y="244.91" width="11.62" height="11.56" fill="#ee8b2e" shape-rendering="crispEdges"/>
<rect x="489.24" y="244.91" width="11.62" height="11.56" fill="#111111" shape-rendering="crispEdges"/>
<rect x="524.10" y="244.91" width="11.62" height="11.56" fill="#d0d0d2" shape-rendering="crispEdges"/>
<rect x="535.72" y="244.91" width="23.24" height="11.56" fill="#ee8b2e" shape-rendering="crispEdges"/>
<rect x="617.06" y="244.91" width="11.62" height="11.56" fill="#7a4c78" shape-rendering="crispEdges"/>
<rect x="628.68" y="244.91" width="23.24" height="11.56" fill="#bc82b4" shape-rendering="crispEdges"/>
<rect x="651.92" y="244.91" width="11.62" height="11.56" fill="#eeb0dc" shape-rendering="crispEdges"/>
<rect x="663.54" y="244.91" width="23.24" height="11.56" fill="#7a4c78" shape-rendering="crispEdges"/>
<rect x="686.78" y="244.91" width="11.62" height="11.56" fill="#bc82b4" shape-rendering="crispEdges"/>
<rect x="698.40" y="244.91" width="11.62" height="11.56" fill="#7a4c78" shape-rendering="crispEdges"/>
<rect x="744.88" y="244.91" width="34.86" height="11.56" fill="#7a4c78" shape-rendering="crispEdges"/>
<rect x="791.36" y="244.91" width="69.72" height="11.56" fill="#7a4c78" shape-rendering="crispEdges"/>
<rect x="872.70" y="244.91" width="11.62" height="11.56" fill="#7a4c78" shape-rendering="crispEdges"/>
<rect x="884.32" y="244.91" width="11.62" height="11.56" fill="#d0d0d2" shape-rendering="crispEdges"/>
<rect x="895.94" y="244.91" width="81.34" height="11.56" fill="#7a4c78" shape-rendering="crispEdges"/>
<rect x="977.28" y="244.91" width="11.62" height="11.56" fill="#d0d0d2" shape-rendering="crispEdges"/>
<rect x="988.90" y="244.91" width="11.62" height="11.56" fill="#7a4c78" shape-rendering="crispEdges"/>
<rect x="1012.14" y="244.91" width="23.24" height="11.56" fill="#7a4c78" shape-rendering="crispEdges"/>
<rect x="1035.38" y="244.91" width="11.62" height="11.56" fill="#bc82b4" shape-rendering="crispEdges"/>
<rect x="1047.00" y="244.91" width="34.86" height="11.56" fill="#7a4c78" shape-rendering="crispEdges"/>
<rect x="1093.48" y="244.91" width="81.34" height="11.56" fill="#7a4c78" shape-rendering="crispEdges"/>
<rect x="1186.44" y="244.91" width="11.62" height="11.56" fill="#7a4c78" shape-rendering="crispEdges"/>
<rect x="1209.68" y="244.91" width="34.86" height="11.56" fill="#7a4c78" shape-rendering="crispEdges"/>
<rect x="1256.16" y="244.91" width="23.24" height="11.56" fill="#7a4c78" shape-rendering="crispEdges"/>
<rect x="210.36" y="256.48" width="11.62" height="11.56" fill="#ee8b2e" shape-rendering="crispEdges"/>
<rect x="221.98" y="256.48" width="11.62" height="11.56" fill="#111111" shape-rendering="crispEdges"/>
<rect x="256.84" y="256.48" width="11.62" height="11.56" fill="#ee8b2e" shape-rendering="crispEdges"/>
<rect x="303.32" y="256.48" width="11.62" height="11.56" fill="#ee8b2e" shape-rendering="crispEdges"/>
<rect x="326.56" y="256.48" width="11.62" height="11.56" fill="#f5a623" shape-rendering="crispEdges"/>
<rect x="361.42" y="256.48" width="11.62" height="11.56" fill="#ee8b2e" shape-rendering="crispEdges"/>
<rect x="373.04" y="256.48" width="11.62" height="11.56" fill="#d0d0d2" shape-rendering="crispEdges"/>
<rect x="524.10" y="256.48" width="11.62" height="11.56" fill="#d0d0d2" shape-rendering="crispEdges"/>
<rect x="617.06" y="256.48" width="11.62" height="11.56" fill="#7a4c78" shape-rendering="crispEdges"/>
<rect x="628.68" y="256.48" width="23.24" height="11.56" fill="#bc82b4" shape-rendering="crispEdges"/>
<rect x="651.92" y="256.48" width="11.62" height="11.56" fill="#eeb0dc" shape-rendering="crispEdges"/>
<rect x="663.54" y="256.48" width="23.24" height="11.56" fill="#7a4c78" shape-rendering="crispEdges"/>
<rect x="686.78" y="256.48" width="11.62" height="11.56" fill="#bc82b4" shape-rendering="crispEdges"/>
<rect x="698.40" y="256.48" width="11.62" height="11.56" fill="#7a4c78" shape-rendering="crispEdges"/>
<rect x="744.88" y="256.48" width="34.86" height="11.56" fill="#7a4c78" shape-rendering="crispEdges"/>
<rect x="791.36" y="256.48" width="34.86" height="11.56" fill="#7a4c78" shape-rendering="crispEdges"/>
<rect x="872.70" y="256.48" width="11.62" height="11.56" fill="#7a4c78" shape-rendering="crispEdges"/>
<rect x="884.32" y="256.48" width="11.62" height="11.56" fill="#d0d0d2" shape-rendering="crispEdges"/>
<rect x="895.94" y="256.48" width="81.34" height="11.56" fill="#7a4c78" shape-rendering="crispEdges"/>
<rect x="977.28" y="256.48" width="11.62" height="11.56" fill="#d0d0d2" shape-rendering="crispEdges"/>
<rect x="988.90" y="256.48" width="11.62" height="11.56" fill="#7a4c78" shape-rendering="crispEdges"/>
<rect x="1012.14" y="256.48" width="23.24" height="11.56" fill="#7a4c78" shape-rendering="crispEdges"/>
<rect x="1035.38" y="256.48" width="11.62" height="11.56" fill="#bc82b4" shape-rendering="crispEdges"/>
<rect x="1047.00" y="256.48" width="34.86" height="11.56" fill="#7a4c78" shape-rendering="crispEdges"/>
<rect x="1093.48" y="256.48" width="81.34" height="11.56" fill="#7a4c78" shape-rendering="crispEdges"/>
<rect x="1186.44" y="256.48" width="11.62" height="11.56" fill="#7a4c78" shape-rendering="crispEdges"/>
<rect x="1209.68" y="256.48" width="34.86" height="11.56" fill="#7a4c78" shape-rendering="crispEdges"/>
<rect x="1256.16" y="256.48" width="23.24" height="11.56" fill="#7a4c78" shape-rendering="crispEdges"/>
<rect x="210.36" y="268.05" width="11.62" height="11.56" fill="#ee8b2e" shape-rendering="crispEdges"/>
<rect x="221.98" y="268.05" width="11.62" height="11.56" fill="#111111" shape-rendering="crispEdges"/>
<rect x="256.84" y="268.05" width="11.62" height="11.56" fill="#ee8b2e" shape-rendering="crispEdges"/>
<rect x="303.32" y="268.05" width="11.62" height="11.56" fill="#ee8b2e" shape-rendering="crispEdges"/>
<rect x="326.56" y="268.05" width="11.62" height="11.56" fill="#f5a623" shape-rendering="crispEdges"/>
<rect x="361.42" y="268.05" width="11.62" height="11.56" fill="#ee8b2e" shape-rendering="crispEdges"/>
<rect x="373.04" y="268.05" width="11.62" height="11.56" fill="#d0d0d2" shape-rendering="crispEdges"/>
<rect x="419.52" y="268.05" width="11.62" height="11.56" fill="#ee8b2e" shape-rendering="crispEdges"/>
<rect x="489.24" y="268.05" width="11.62" height="11.56" fill="#111111" shape-rendering="crispEdges"/>
<rect x="524.10" y="268.05" width="11.62" height="11.56" fill="#d0d0d2" shape-rendering="crispEdges"/>
<rect x="535.72" y="268.05" width="23.24" height="11.56" fill="#ee8b2e" shape-rendering="crispEdges"/>
<rect x="617.06" y="268.05" width="11.62" height="11.56" fill="#7a4c78" shape-rendering="crispEdges"/>
<rect x="628.68" y="268.05" width="23.24" height="11.56" fill="#bc82b4" shape-rendering="crispEdges"/>
<rect x="651.92" y="268.05" width="11.62" height="11.56" fill="#eeb0dc" shape-rendering="crispEdges"/>
<rect x="663.54" y="268.05" width="23.24" height="11.56" fill="#7a4c78" shape-rendering="crispEdges"/>
<rect x="686.78" y="268.05" width="11.62" height="11.56" fill="#bc82b4" shape-rendering="crispEdges"/>
<rect x="698.40" y="268.05" width="11.62" height="11.56" fill="#7a4c78" shape-rendering="crispEdges"/>
<rect x="744.88" y="268.05" width="34.86" height="11.56" fill="#7a4c78" shape-rendering="crispEdges"/>
<rect x="791.36" y="268.05" width="34.86" height="11.56" fill="#7a4c78" shape-rendering="crispEdges"/>
<rect x="872.70" y="268.05" width="11.62" height="11.56" fill="#7a4c78" shape-rendering="crispEdges"/>
<rect x="884.32" y="268.05" width="11.62" height="11.56" fill="#d0d0d2" shape-rendering="crispEdges"/>
<rect x="895.94" y="268.05" width="81.34" height="11.56" fill="#7a4c78" shape-rendering="crispEdges"/>
<rect x="977.28" y="268.05" width="11.62" height="11.56" fill="#d0d0d2" shape-rendering="crispEdges"/>
<rect x="988.90" y="268.05" width="11.62" height="11.56" fill="#7a4c78" shape-rendering="crispEdges"/>
<rect x="1012.14" y="268.05" width="23.24" height="11.56" fill="#7a4c78" shape-rendering="crispEdges"/>
<rect x="1035.38" y="268.05" width="11.62" height="11.56" fill="#bc82b4" shape-rendering="crispEdges"/>
<rect x="1058.62" y="268.05" width="23.24" height="11.56" fill="#7a4c78" shape-rendering="crispEdges"/>
<rect x="1093.48" y="268.05" width="81.34" height="11.56" fill="#7a4c78" shape-rendering="crispEdges"/>
<rect x="1186.44" y="268.05" width="11.62" height="11.56" fill="#7a4c78" shape-rendering="crispEdges"/>
<rect x="1209.68" y="268.05" width="34.86" height="11.56" fill="#7a4c78" shape-rendering="crispEdges"/>
<rect x="1256.16" y="268.05" width="23.24" height="11.56" fill="#7a4c78" shape-rendering="crispEdges"/>
<rect x="210.36" y="279.61" width="11.62" height="11.56" fill="#ee8b2e" shape-rendering="crispEdges"/>
<rect x="221.98" y="279.61" width="11.62" height="11.56" fill="#111111" shape-rendering="crispEdges"/>
<rect x="256.84" y="279.61" width="11.62" height="11.56" fill="#ee8b2e" shape-rendering="crispEdges"/>
<rect x="303.32" y="279.61" width="11.62" height="11.56" fill="#ee8b2e" shape-rendering="crispEdges"/>
<rect x="326.56" y="279.61" width="11.62" height="11.56" fill="#f5a623" shape-rendering="crispEdges"/>
<rect x="361.42" y="279.61" width="11.62" height="11.56" fill="#ee8b2e" shape-rendering="crispEdges"/>
<rect x="373.04" y="279.61" width="11.62" height="11.56" fill="#d0d0d2" shape-rendering="crispEdges"/>
<rect x="419.52" y="279.61" width="11.62" height="11.56" fill="#ee8b2e" shape-rendering="crispEdges"/>
<rect x="489.24" y="279.61" width="11.62" height="11.56" fill="#111111" shape-rendering="crispEdges"/>
<rect x="524.10" y="279.61" width="11.62" height="11.56" fill="#d0d0d2" shape-rendering="crispEdges"/>
<rect x="535.72" y="279.61" width="23.24" height="11.56" fill="#ee8b2e" shape-rendering="crispEdges"/>
<rect x="617.06" y="279.61" width="11.62" height="11.56" fill="#7a4c78" shape-rendering="crispEdges"/>
<rect x="628.68" y="279.61" width="23.24" height="11.56" fill="#bc82b4" shape-rendering="crispEdges"/>
<rect x="651.92" y="279.61" width="11.62" height="11.56" fill="#eeb0dc" shape-rendering="crispEdges"/>
<rect x="663.54" y="279.61" width="23.24" height="11.56" fill="#7a4c78" shape-rendering="crispEdges"/>
<rect x="686.78" y="279.61" width="11.62" height="11.56" fill="#bc82b4" shape-rendering="crispEdges"/>
<rect x="698.40" y="279.61" width="11.62" height="11.56" fill="#7a4c78" shape-rendering="crispEdges"/>
<rect x="744.88" y="279.61" width="34.86" height="11.56" fill="#7a4c78" shape-rendering="crispEdges"/>
<rect x="791.36" y="279.61" width="34.86" height="11.56" fill="#7a4c78" shape-rendering="crispEdges"/>
<rect x="872.70" y="279.61" width="11.62" height="11.56" fill="#7a4c78" shape-rendering="crispEdges"/>
<rect x="884.32" y="279.61" width="11.62" height="11.56" fill="#d0d0d2" shape-rendering="crispEdges"/>
<rect x="895.94" y="279.61" width="81.34" height="11.56" fill="#7a4c78" shape-rendering="crispEdges"/>
<rect x="977.28" y="279.61" width="11.62" height="11.56" fill="#d0d0d2" shape-rendering="crispEdges"/>
<rect x="988.90" y="279.61" width="11.62" height="11.56" fill="#7a4c78" shape-rendering="crispEdges"/>
<rect x="1012.14" y="279.61" width="23.24" height="11.56" fill="#7a4c78" shape-rendering="crispEdges"/>
<rect x="1035.38" y="279.61" width="11.62" height="11.56" fill="#bc82b4" shape-rendering="crispEdges"/>
<rect x="1058.62" y="279.61" width="23.24" height="11.56" fill="#7a4c78" shape-rendering="crispEdges"/>
<rect x="1093.48" y="279.61" width="81.34" height="11.56" fill="#7a4c78" shape-rendering="crispEdges"/>
<rect x="1186.44" y="279.61" width="11.62" height="11.56" fill="#7a4c78" shape-rendering="crispEdges"/>
<rect x="1209.68" y="279.61" width="34.86" height="11.56" fill="#7a4c78" shape-rendering="crispEdges"/>
<rect x="1256.16" y="279.61" width="23.24" height="11.56" fill="#7a4c78" shape-rendering="crispEdges"/>
<rect x="210.36" y="291.18" width="11.62" height="11.56" fill="#ee8b2e" shape-rendering="crispEdges"/>
<rect x="291.70" y="291.18" width="11.62" height="11.56" fill="#111111" shape-rendering="crispEdges"/>
<rect x="303.32" y="291.18" width="11.62" height="11.56" fill="#ee8b2e" shape-rendering="crispEdges"/>
<rect x="326.56" y="291.18" width="11.62" height="11.56" fill="#f5a623" shape-rendering="crispEdges"/>
<rect x="361.42" y="291.18" width="11.62" height="11.56" fill="#ee8b2e" shape-rendering="crispEdges"/>
<rect x="373.04" y="291.18" width="11.62" height="11.56" fill="#d0d0d2" shape-rendering="crispEdges"/>
<rect x="419.52" y="291.18" width="11.62" height="11.56" fill="#ee8b2e" shape-rendering="crispEdges"/>
<rect x="524.10" y="291.18" width="11.62" height="11.56" fill="#d0d0d2" shape-rendering="crispEdges"/>
<rect x="547.34" y="291.18" width="11.62" height="11.56" fill="#ee8b2e" shape-rendering="crispEdges"/>
<rect x="582.20" y="291.18" width="11.62" height="11.56" fill="#ee8b2e" shape-rendering="crispEdges"/>
<rect x="593.82" y="291.18" width="11.62" height="11.56" fill="#111111" shape-rendering="crispEdges"/>
<rect x="605.44" y="291.18" width="11.62" height="11.56" fill="#ee8b2e" shape-rendering="crispEdges"/>
<rect x="617.06" y="291.18" width="11.62" height="11.56" fill="#7a4c78" shape-rendering="crispEdges"/>
<rect x="628.68" y="291.18" width="23.24" height="11.56" fill="#bc82b4" shape-rendering="crispEdges"/>
<rect x="651.92" y="291.18" width="11.62" height="11.56" fill="#eeb0dc" shape-rendering="crispEdges"/>
<rect x="663.54" y="291.18" width="23.24" height="11.56" fill="#7a4c78" shape-rendering="crispEdges"/>
<rect x="686.78" y="291.18" width="11.62" height="11.56" fill="#bc82b4" shape-rendering="crispEdges"/>
<rect x="698.40" y="291.18" width="11.62" height="11.56" fill="#7a4c78" shape-rendering="crispEdges"/>
<rect x="744.88" y="291.18" width="34.86" height="11.56" fill="#7a4c78" shape-rendering="crispEdges"/>
<rect x="791.36" y="291.18" width="69.72" height="11.56" fill="#7a4c78" shape-rendering="crispEdges"/>
<rect x="872.70" y="291.18" width="11.62" height="11.56" fill="#7a4c78" shape-rendering="crispEdges"/>
<rect x="884.32" y="291.18" width="11.62" height="11.56" fill="#d0d0d2" shape-rendering="crispEdges"/>
<rect x="895.94" y="291.18" width="81.34" height="11.56" fill="#7a4c78" shape-rendering="crispEdges"/>
<rect x="977.28" y="291.18" width="11.62" height="11.56" fill="#d0d0d2" shape-rendering="crispEdges"/>
<rect x="988.90" y="291.18" width="11.62" height="11.56" fill="#7a4c78" shape-rendering="crispEdges"/>
<rect x="1012.14" y="291.18" width="23.24" height="11.56" fill="#7a4c78" shape-rendering="crispEdges"/>
<rect x="1047.00" y="291.18" width="34.86" height="11.56" fill="#7a4c78" shape-rendering="crispEdges"/>
<rect x="1093.48" y="291.18" width="81.34" height="11.56" fill="#7a4c78" shape-rendering="crispEdges"/>
<rect x="1186.44" y="291.18" width="11.62" height="11.56" fill="#7a4c78" shape-rendering="crispEdges"/>
<rect x="1209.68" y="291.18" width="34.86" height="11.56" fill="#7a4c78" shape-rendering="crispEdges"/>
<rect x="1256.16" y="291.18" width="23.24" height="11.56" fill="#7a4c78" shape-rendering="crispEdges"/>
<rect x="210.36" y="302.74" width="11.62" height="11.56" fill="#ee8b2e" shape-rendering="crispEdges"/>
<rect x="256.84" y="302.74" width="11.62" height="11.56" fill="#ee8b2e" shape-rendering="crispEdges"/>
<rect x="291.70" y="302.74" width="11.62" height="11.56" fill="#111111" shape-rendering="crispEdges"/>
<rect x="303.32" y="302.74" width="11.62" height="11.56" fill="#ee8b2e" shape-rendering="crispEdges"/>
<rect x="326.56" y="302.74" width="11.62" height="11.56" fill="#f5a623" shape-rendering="crispEdges"/>
<rect x="361.42" y="302.74" width="11.62" height="11.56" fill="#ee8b2e" shape-rendering="crispEdges"/>
<rect x="373.04" y="302.74" width="11.62" height="11.56" fill="#d0d0d2" shape-rendering="crispEdges"/>
<rect x="419.52" y="302.74" width="11.62" height="11.56" fill="#ee8b2e" shape-rendering="crispEdges"/>
<rect x="524.10" y="302.74" width="11.62" height="11.56" fill="#d0d0d2" shape-rendering="crispEdges"/>
<rect x="547.34" y="302.74" width="11.62" height="11.56" fill="#ee8b2e" shape-rendering="crispEdges"/>
<rect x="582.20" y="302.74" width="11.62" height="11.56" fill="#ee8b2e" shape-rendering="crispEdges"/>
<rect x="593.82" y="302.74" width="11.62" height="11.56" fill="#111111" shape-rendering="crispEdges"/>
<rect x="605.44" y="302.74" width="11.62" height="11.56" fill="#ee8b2e" shape-rendering="crispEdges"/>
<rect x="617.06" y="302.74" width="11.62" height="11.56" fill="#7a4c78" shape-rendering="crispEdges"/>
<rect x="628.68" y="302.74" width="23.24" height="11.56" fill="#bc82b4" shape-rendering="crispEdges"/>
<rect x="651.92" y="302.74" width="11.62" height="11.56" fill="#eeb0dc" shape-rendering="crispEdges"/>
<rect x="663.54" y="302.74" width="23.24" height="11.56" fill="#7a4c78" shape-rendering="crispEdges"/>
<rect x="686.78" y="302.74" width="11.62" height="11.56" fill="#bc82b4" shape-rendering="crispEdges"/>
<rect x="698.40" y="302.74" width="11.62" height="11.56" fill="#7a4c78" shape-rendering="crispEdges"/>
<rect x="744.88" y="302.74" width="34.86" height="11.56" fill="#7a4c78" shape-rendering="crispEdges"/>
<rect x="791.36" y="302.74" width="69.72" height="11.56" fill="#7a4c78" shape-rendering="crispEdges"/>
<rect x="872.70" y="302.74" width="11.62" height="11.56" fill="#7a4c78" shape-rendering="crispEdges"/>
<rect x="884.32" y="302.74" width="11.62" height="11.56" fill="#d0d0d2" shape-rendering="crispEdges"/>
<rect x="895.94" y="302.74" width="81.34" height="11.56" fill="#7a4c78" shape-rendering="crispEdges"/>
<rect x="977.28" y="302.74" width="11.62" height="11.56" fill="#d0d0d2" shape-rendering="crispEdges"/>
<rect x="988.90" y="302.74" width="11.62" height="11.56" fill="#7a4c78" shape-rendering="crispEdges"/>
<rect x="1012.14" y="302.74" width="23.24" height="11.56" fill="#7a4c78" shape-rendering="crispEdges"/>
<rect x="1047.00" y="302.74" width="34.86" height="11.56" fill="#7a4c78" shape-rendering="crispEdges"/>
<rect x="1093.48" y="302.74" width="81.34" height="11.56" fill="#7a4c78" shape-rendering="crispEdges"/>
<rect x="1186.44" y="302.74" width="11.62" height="11.56" fill="#7a4c78" shape-rendering="crispEdges"/>
<rect x="1209.68" y="302.74" width="34.86" height="11.56" fill="#7a4c78" shape-rendering="crispEdges"/>
<rect x="1256.16" y="302.74" width="23.24" height="11.56" fill="#7a4c78" shape-rendering="crispEdges"/>
<rect x="1383.98" y="302.74" width="11.62" height="11.56" fill="#f5a623" shape-rendering="crispEdges"/>
<rect x="210.36" y="314.31" width="11.62" height="11.56" fill="#ee8b2e" shape-rendering="crispEdges"/>
<rect x="256.84" y="314.31" width="11.62" height="11.56" fill="#ee8b2e" shape-rendering="crispEdges"/>
<rect x="291.70" y="314.31" width="11.62" height="11.56" fill="#111111" shape-rendering="crispEdges"/>
<rect x="303.32" y="314.31" width="11.62" height="11.56" fill="#ee8b2e" shape-rendering="crispEdges"/>
<rect x="326.56" y="314.31" width="11.62" height="11.56" fill="#f5a623" shape-rendering="crispEdges"/>
<rect x="361.42" y="314.31" width="11.62" height="11.56" fill="#ee8b2e" shape-rendering="crispEdges"/>
<rect x="373.04" y="314.31" width="11.62" height="11.56" fill="#d0d0d2" shape-rendering="crispEdges"/>
<rect x="419.52" y="314.31" width="11.62" height="11.56" fill="#ee8b2e" shape-rendering="crispEdges"/>
<rect x="524.10" y="314.31" width="11.62" height="11.56" fill="#d0d0d2" shape-rendering="crispEdges"/>
<rect x="535.72" y="314.31" width="23.24" height="11.56" fill="#ee8b2e" shape-rendering="crispEdges"/>
<rect x="582.20" y="314.31" width="11.62" height="11.56" fill="#ee8b2e" shape-rendering="crispEdges"/>
<rect x="593.82" y="314.31" width="11.62" height="11.56" fill="#111111" shape-rendering="crispEdges"/>
<rect x="605.44" y="314.31" width="11.62" height="11.56" fill="#ee8b2e" shape-rendering="crispEdges"/>
<rect x="617.06" y="314.31" width="11.62" height="11.56" fill="#7a4c78" shape-rendering="crispEdges"/>
<rect x="628.68" y="314.31" width="23.24" height="11.56" fill="#bc82b4" shape-rendering="crispEdges"/>
<rect x="651.92" y="314.31" width="11.62" height="11.56" fill="#eeb0dc" shape-rendering="crispEdges"/>
<rect x="663.54" y="314.31" width="23.24" height="11.56" fill="#7a4c78" shape-rendering="crispEdges"/>
<rect x="686.78" y="314.31" width="11.62" height="11.56" fill="#bc82b4" shape-rendering="crispEdges"/>
<rect x="698.40" y="314.31" width="11.62" height="11.56" fill="#7a4c78" shape-rendering="crispEdges"/>
<rect x="744.88" y="314.31" width="34.86" height="11.56" fill="#7a4c78" shape-rendering="crispEdges"/>
<rect x="791.36" y="314.31" width="69.72" height="11.56" fill="#7a4c78" shape-rendering="crispEdges"/>
<rect x="872.70" y="314.31" width="11.62" height="11.56" fill="#7a4c78" shape-rendering="crispEdges"/>
<rect x="884.32" y="314.31" width="11.62" height="11.56" fill="#d0d0d2" shape-rendering="crispEdges"/>
<rect x="895.94" y="314.31" width="81.34" height="11.56" fill="#7a4c78" shape-rendering="crispEdges"/>
<rect x="977.28" y="314.31" width="11.62" height="11.56" fill="#d0d0d2" shape-rendering="crispEdges"/>
<rect x="988.90" y="314.31" width="11.62" height="11.56" fill="#7a4c78" shape-rendering="crispEdges"/>
<rect x="1012.14" y="314.31" width="23.24" height="11.56" fill="#7a4c78" shape-rendering="crispEdges"/>
<rect x="1047.00" y="314.31" width="34.86" height="11.56" fill="#7a4c78" shape-rendering="crispEdges"/>
<rect x="1093.48" y="314.31" width="81.34" height="11.56" fill="#7a4c78" shape-rendering="crispEdges"/>
<rect x="1186.44" y="314.31" width="11.62" height="11.56" fill="#7a4c78" shape-rendering="crispEdges"/>
<rect x="1209.68" y="314.31" width="34.86" height="11.56" fill="#7a4c78" shape-rendering="crispEdges"/>
<rect x="1256.16" y="314.31" width="23.24" height="11.56" fill="#7a4c78" shape-rendering="crispEdges"/>
<rect x="1383.98" y="314.31" width="11.62" height="11.56" fill="#f5a623" shape-rendering="crispEdges"/>
<rect x="210.36" y="325.87" width="11.62" height="11.56" fill="#ee8b2e" shape-rendering="crispEdges"/>
<rect x="256.84" y="325.87" width="11.62" height="11.56" fill="#ee8b2e" shape-rendering="crispEdges"/>
<rect x="291.70" y="325.87" width="11.62" height="11.56" fill="#111111" shape-rendering="crispEdges"/>
<rect x="303.32" y="325.87" width="11.62" height="11.56" fill="#ee8b2e" shape-rendering="crispEdges"/>
<rect x="326.56" y="325.87" width="11.62" height="11.56" fill="#f5a623" shape-rendering="crispEdges"/>
<rect x="361.42" y="325.87" width="11.62" height="11.56" fill="#ee8b2e" shape-rendering="crispEdges"/>
<rect x="373.04" y="325.87" width="11.62" height="11.56" fill="#d0d0d2" shape-rendering="crispEdges"/>
<rect x="419.52" y="325.87" width="11.62" height="11.56" fill="#ee8b2e" shape-rendering="crispEdges"/>
<rect x="524.10" y="325.87" width="11.62" height="11.56" fill="#d0d0d2" shape-rendering="crispEdges"/>
<rect x="535.72" y="325.87" width="23.24" height="11.56" fill="#ee8b2e" shape-rendering="crispEdges"/>
<rect x="582.20" y="325.87" width="11.62" height="11.56" fill="#ee8b2e" shape-rendering="crispEdges"/>
<rect x="593.82" y="325.87" width="11.62" height="11.56" fill="#111111" shape-rendering="crispEdges"/>
<rect x="605.44" y="325.87" width="11.62" height="11.56" fill="#ee8b2e" shape-rendering="crispEdges"/>
<rect x="617.06" y="325.87" width="11.62" height="11.56" fill="#7a4c78" shape-rendering="crispEdges"/>
<rect x="628.68" y="325.87" width="23.24" height="11.56" fill="#bc82b4" shape-rendering="crispEdges"/>
<rect x="651.92" y="325.87" width="11.62" height="11.56" fill="#eeb0dc" shape-rendering="crispEdges"/>
<rect x="663.54" y="325.87" width="23.24" height="11.56" fill="#7a4c78" shape-rendering="crispEdges"/>
<rect x="686.78" y="325.87" width="11.62" height="11.56" fill="#bc82b4" shape-rendering="crispEdges"/>
<rect x="698.40" y="325.87" width="11.62" height="11.56" fill="#7a4c78" shape-rendering="crispEdges"/>
<rect x="744.88" y="325.87" width="34.86" height="11.56" fill="#7a4c78" shape-rendering="crispEdges"/>
<rect x="791.36" y="325.87" width="69.72" height="11.56" fill="#7a4c78" shape-rendering="crispEdges"/>
<rect x="872.70" y="325.87" width="11.62" height="11.56" fill="#7a4c78" shape-rendering="crispEdges"/>
<rect x="884.32" y="325.87" width="11.62" height="11.56" fill="#d0d0d2" shape-rendering="crispEdges"/>
<rect x="895.94" y="325.87" width="81.34" height="11.56" fill="#7a4c78" shape-rendering="crispEdges"/>
<rect x="977.28" y="325.87" width="11.62" height="11.56" fill="#d0d0d2" shape-rendering="crispEdges"/>
<rect x="988.90" y="325.87" width="11.62" height="11.56" fill="#7a4c78" shape-rendering="crispEdges"/>
<rect x="1012.14" y="325.87" width="23.24" height="11.56" fill="#7a4c78" shape-rendering="crispEdges"/>
<rect x="1047.00" y="325.87" width="34.86" height="11.56" fill="#7a4c78" shape-rendering="crispEdges"/>
<rect x="1093.48" y="325.87" width="81.34" height="11.56" fill="#7a4c78" shape-rendering="crispEdges"/>
<rect x="1186.44" y="325.87" width="11.62" height="11.56" fill="#7a4c78" shape-rendering="crispEdges"/>
<rect x="1209.68" y="325.87" width="34.86" height="11.56" fill="#7a4c78" shape-rendering="crispEdges"/>
<rect x="1256.16" y="325.87" width="23.24" height="11.56" fill="#7a4c78" shape-rendering="crispEdges"/>
<rect x="1383.98" y="325.87" width="11.62" height="11.56" fill="#f5a623" shape-rendering="crispEdges"/>
<rect x="210.36" y="337.44" width="11.62" height="11.56" fill="#ee8b2e" shape-rendering="crispEdges"/>
<rect x="256.84" y="337.44" width="11.62" height="11.56" fill="#ee8b2e" shape-rendering="crispEdges"/>
<rect x="291.70" y="337.44" width="11.62" height="11.56" fill="#111111" shape-rendering="crispEdges"/>
<rect x="303.32" y="337.44" width="11.62" height="11.56" fill="#ee8b2e" shape-rendering="crispEdges"/>
<rect x="326.56" y="337.44" width="11.62" height="11.56" fill="#f5a623" shape-rendering="crispEdges"/>
<rect x="361.42" y="337.44" width="11.62" height="11.56" fill="#ee8b2e" shape-rendering="crispEdges"/>
<rect x="373.04" y="337.44" width="11.62" height="11.56" fill="#d0d0d2" shape-rendering="crispEdges"/>
<rect x="419.52" y="337.44" width="11.62" height="11.56" fill="#ee8b2e" shape-rendering="crispEdges"/>
<rect x="524.10" y="337.44" width="11.62" height="11.56" fill="#d0d0d2" shape-rendering="crispEdges"/>
<rect x="535.72" y="337.44" width="23.24" height="11.56" fill="#ee8b2e" shape-rendering="crispEdges"/>
<rect x="582.20" y="337.44" width="11.62" height="11.56" fill="#ee8b2e" shape-rendering="crispEdges"/>
<rect x="593.82" y="337.44" width="11.62" height="11.56" fill="#111111" shape-rendering="crispEdges"/>
<rect x="605.44" y="337.44" width="11.62" height="11.56" fill="#ee8b2e" shape-rendering="crispEdges"/>
<rect x="617.06" y="337.44" width="11.62" height="11.56" fill="#7a4c78" shape-rendering="crispEdges"/>
<rect x="628.68" y="337.44" width="23.24" height="11.56" fill="#bc82b4" shape-rendering="crispEdges"/>
<rect x="651.92" y="337.44" width="11.62" height="11.56" fill="#eeb0dc" shape-rendering="crispEdges"/>
<rect x="663.54" y="337.44" width="23.24" height="11.56" fill="#7a4c78" shape-rendering="crispEdges"/>
<rect x="686.78" y="337.44" width="11.62" height="11.56" fill="#bc82b4" shape-rendering="crispEdges"/>
<rect x="698.40" y="337.44" width="11.62" height="11.56" fill="#7a4c78" shape-rendering="crispEdges"/>
<rect x="744.88" y="337.44" width="34.86" height="11.56" fill="#7a4c78" shape-rendering="crispEdges"/>
<rect x="791.36" y="337.44" width="69.72" height="11.56" fill="#7a4c78" shape-rendering="crispEdges"/>
<rect x="872.70" y="337.44" width="11.62" height="11.56" fill="#7a4c78" shape-rendering="crispEdges"/>
<rect x="884.32" y="337.44" width="11.62" height="11.56" fill="#d0d0d2" shape-rendering="crispEdges"/>
<rect x="895.94" y="337.44" width="81.34" height="11.56" fill="#7a4c78" shape-rendering="crispEdges"/>
<rect x="977.28" y="337.44" width="11.62" height="11.56" fill="#d0d0d2" shape-rendering="crispEdges"/>
<rect x="988.90" y="337.44" width="11.62" height="11.56" fill="#7a4c78" shape-rendering="crispEdges"/>
<rect x="1012.14" y="337.44" width="23.24" height="11.56" fill="#7a4c78" shape-rendering="crispEdges"/>
<rect x="1047.00" y="337.44" width="34.86" height="11.56" fill="#7a4c78" shape-rendering="crispEdges"/>
<rect x="1093.48" y="337.44" width="81.34" height="11.56" fill="#7a4c78" shape-rendering="crispEdges"/>
<rect x="1186.44" y="337.44" width="11.62" height="11.56" fill="#7a4c78" shape-rendering="crispEdges"/>
<rect x="1209.68" y="337.44" width="34.86" height="11.56" fill="#7a4c78" shape-rendering="crispEdges"/>
<rect x="1256.16" y="337.44" width="23.24" height="11.56" fill="#7a4c78" shape-rendering="crispEdges"/>
<text x="181.3 192.9 204.6 227.8 239.4 274.3 285.9 297.5 320.8 332.4 344.0 402.1 436.9 448.6 460.2 471.8 495.0 518.3 564.8 599.6 622.9 634.5 646.1 681.0 692.6 704.2 750.7 762.3 773.9 785.5 797.2 808.8 820.4 832.0 843.6 855.3 878.5 901.7 913.4 925.0 936.6 948.2 959.8 971.5 994.7 1017.9 1041.2 1052.8 1064.4 1076.0 1099.3 1110.9 1122.5 1134.1 1145.8 1157.4 1169.0 1192.2 1203.9 1215.5 1227.1 1238.7 1273.6 1296.8 1331.7 1389.8" y="126.33" font-size="7.9" font-weight="bold" text-anchor="middle" fill="#2a2a2a">TKGTASLRIAAPLSGIQEILAHVVYYNLGRSSSKNGSEQGQNYTHNANDNQNLTDQAPGERSGDHL</text>
<text x="216.2 262.6 309.1 367.2 425.3 541.5 553.1 588.0 611.2 715.8 727.4 739.1 866.9 1029.6 1087.7 1180.6 1250.3 1262.0 1285.2 1308.4 1320.1 1343.3 1354.9 1366.5 1378.2" y="126.33" font-size="7.9" font-weight="bold" text-anchor="middle" fill="#4a2a10">SLSLASLVR--GRRNTGMCYLAI--</text>
<text x="251.0 390.5" y="126.33" font-size="7.9" font-weight="bold" text-anchor="middle" fill="#b0b0b0">IT</text>
<text x="355.6 413.7 483.4 506.7 576.4 669.3 1006.3" y="126.33" font-size="7.9" font-weight="bold" text-anchor="middle" fill="#4a3010">VFMNSDH</text>
<text x="378.8 529.9 890.1 983.1" y="126.33" font-size="7.9" font-weight="bold" text-anchor="middle" fill="#1a1a1a">ILKG</text>
<text x="657.7" y="126.33" font-size="7.9" font-weight="bold" text-anchor="middle" fill="#3a1a35">I</text>
<text x="181.3 204.6 216.2 227.8 239.4 251.0 262.6 297.5 309.1 320.8 332.4 355.6 367.2 390.5 413.7 425.3 483.4 495.0 506.7 518.3 541.5 553.1 576.4 588.0 599.6 611.2 715.8 727.4 739.1 866.9 1006.3 1041.2 1087.7 1180.6 1203.9 1250.3 1285.2 1296.8 1308.4 1320.1 1343.3 1354.9 1366.5 1378.2 1389.8" y="137.90" font-size="7.9" font-weight="bold" text-anchor="middle" fill="#2a2a2a">TGATATPRPIAAVALTTQKEGPAALTEFRLQADIGDGDDSVTDFL</text>
<text x="192.9 274.3 285.9 344.0 402.1 436.9 448.6 460.2 471.8 564.8 622.9 669.3 681.0 704.2 750.7 762.3 773.9 797.2 808.8 820.4 832.0 843.6 855.3 878.5 901.7 913.4 925.0 936.6 948.2 959.8 971.5 994.7 1017.9 1029.6 1052.8 1064.4 1076.0 1099.3 1110.9 1122.5 1134.1 1145.8 1157.4 1169.0 1192.2 1215.5 1227.1 1238.7 1262.0 1273.6" y="137.90" font-size="7.9" font-weight="bold" text-anchor="middle" fill="#e6c2e0">R-ITH---VVV--D-IDLPFNKSNARSRYHKYKHKYKHKFIGETL---KR</text>
<text x="378.8 529.9 890.1 983.1" y="137.90" font-size="7.9" font-weight="bold" text-anchor="middle" fill="#1a1a1a">ILKG</text>
<text x="634.5 646.1 692.6 785.5" y="137.90" font-size="7.9" font-weight="bold" text-anchor="middle" fill="#f4d4ee">---K</text>
<text x="657.7" y="137.90" font-size="7.9" font-weight="bold" text-anchor="middle" fill="#3a1a35">I</text>
<text x="1331.7" y="137.90" font-size="7.9" font-weight="bold" text-anchor="middle" fill="#b0b0b0">Y</text>
<text x="181.3 518.3" y="149.46" font-size="7.9" font-weight="bold" text-anchor="middle" fill="#b0b0b0">IG</text>
<text x="192.9 204.6 227.8 239.4 251.0 274.3 285.9 297.5 320.8 332.4 344.0 390.5 402.1 413.7 436.9 448.6 460.2 471.8 483.4 495.0 564.8 599.6 622.9 634.5 646.1 681.0 692.6 704.2 750.7 762.3 866.9 1006.3 1041.2 1087.7 1180.6 1203.9 1250.3 1285.2 1296.8 1308.4 1320.1 1331.7 1343.3 1354.9 1366.5 1378.2 1389.8" y="149.46" font-size="7.9" font-weight="bold" text-anchor="middle" fill="#2a2a2a">KGTATSLRIAAAPLLSGITQILAHVVYYNLLQADIGDGDDSHVTDFL</text>
<text x="216.2 262.6 309.1 367.2 425.3 541.5 553.1 588.0 611.2 715.8 727.4 739.1" y="149.46" font-size="7.9" font-weight="bold" text-anchor="middle" fill="#4a2a10">SLSLASLVR--G</text>
<text x="355.6 506.7 576.4 669.3" y="149.46" font-size="7.9" font-weight="bold" text-anchor="middle" fill="#4a3010">VNSD</text>
<text x="378.8 529.9 890.1 983.1" y="149.46" font-size="7.9" font-weight="bold" text-anchor="middle" fill="#1a1a1a">ILKG</text>
<text x="657.7" y="149.46" font-size="7.9" font-weight="bold" text-anchor="middle" fill="#3a1a35">I</text>
<text x="773.9 797.2 808.8 820.4 832.0 843.6 855.3 878.5 901.7 913.4 925.0 936.6 948.2 959.8 971.5 994.7 1017.9 1029.6 1052.8 1064.4 1076.0 1099.3 1110.9 1122.5 1134.1 1145.8 1157.4 1169.0 1192.2 1215.5 1227.1 1238.7 1262.0 1273.6" y="149.46" font-size="7.9" font-weight="bold" text-anchor="middle" fill="#e6c2e0">DLPFNKSNARSRYHKYKHKYKHKFIGETL---KR</text>
<text x="785.5" y="149.46" font-size="7.9" font-weight="bold" text-anchor="middle" fill="#f4d4ee">K</text>
<text x="181.3 518.3" y="161.03" font-size="7.9" font-weight="bold" text-anchor="middle" fill="#b0b0b0">IG</text>
<text x="192.9 204.6 227.8 239.4 251.0 274.3 285.9 297.5 320.8 332.4 344.0 390.5 402.1 413.7 436.9 448.6 460.2 471.8 483.4 495.0 564.8 599.6 622.9 634.5 646.1 681.0 692.6 704.2 750.7 762.3 866.9 1006.3 1041.2 1087.7 1180.6 1203.9 1250.3 1285.2 1296.8 1308.4 1320.1 1331.7 1343.3 1354.9 1366.5 1378.2 1389.8" y="161.03" font-size="7.9" font-weight="bold" text-anchor="middle" fill="#2a2a2a">KGTATSLRIAAAPLLSGITQILAHVVYYNLLQADIGDGDDSHVTDFL</text>
<text x="216.2 262.6 309.1 367.2 425.3 541.5 553.1 588.0 611.2 715.8 727.4 739.1" y="161.03" font-size="7.9" font-weight="bold" text-anchor="middle" fill="#4a2a10">SLSLASLVR--G</text>
<text x="355.6 506.7 576.4 669.3" y="161.03" font-size="7.9" font-weight="bold" text-anchor="middle" fill="#4a3010">VNSD</text>
<text x="378.8 529.9 890.1 983.1" y="161.03" font-size="7.9" font-weight="bold" text-anchor="middle" fill="#1a1a1a">ILKG</text>
<text x="657.7" y="161.03" font-size="7.9" font-weight="bold" text-anchor="middle" fill="#3a1a35">I</text>
<text x="773.9 797.2 808.8 820.4 832.0 843.6 855.3 878.5 901.7 913.4 925.0 936.6 948.2 959.8 971.5 994.7 1017.9 1029.6 1052.8 1064.4 1076.0 1099.3 1110.9 1122.5 1134.1 1145.8 1157.4 1169.0 1192.2 1215.5 1227.1 1238.7 1262.0 1273.6" y="161.03" font-size="7.9" font-weight="bold" text-anchor="middle" fill="#e6c2e0">DLPFNKSNARSRYHKYKHKYKHKFIGETL---KR</text>
<text x="785.5" y="161.03" font-size="7.9" font-weight="bold" text-anchor="middle" fill="#f4d4ee">K</text>
<text x="181.3 518.3 1389.8" y="172.59" font-size="7.9" font-weight="bold" text-anchor="middle" fill="#b0b0b0">IG-</text>
<text x="192.9 204.6 227.8 239.4 251.0 320.8 332.4 344.0 390.5 402.1 413.7 425.3 436.9 448.6 460.2 471.8 483.4 495.0 564.8 681.0 692.6 704.2 866.9 1006.3 1041.2 1087.7 1180.6 1203.9 1250.3 1285.2 1296.8 1308.4 1320.1 1331.7 1343.3 1354.9 1366.5 1378.2" y="172.59" font-size="7.9" font-weight="bold" text-anchor="middle" fill="#2a2a2a">KGTATIAAAPLTLSGITQIVYYLQADIGDGDDSHVTDF</text>
<text x="216.2 367.2 541.5 553.1 588.0 715.8 727.4 739.1" y="172.59" font-size="7.9" font-weight="bold" text-anchor="middle" fill="#4a2a10">SLSLV--G</text>
<text x="355.6 506.7 576.4 669.3" y="172.59" font-size="7.9" font-weight="bold" text-anchor="middle" fill="#4a3010">VNSD</text>
<text x="378.8 529.9 890.1 983.1" y="172.59" font-size="7.9" font-weight="bold" text-anchor="middle" fill="#1a1a1a">ILKG</text>
<text x="657.7" y="172.59" font-size="7.9" font-weight="bold" text-anchor="middle" fill="#3a1a35">I</text>
<text x="773.9 797.2 808.8 820.4 832.0 843.6 855.3 878.5 901.7 913.4 925.0 936.6 948.2 959.8 971.5 994.7 1017.9 1029.6 1052.8 1064.4 1076.0 1099.3 1110.9 1122.5 1134.1 1157.4 1169.0 1192.2 1215.5 1227.1 1238.7 1262.0 1273.6" y="172.59" font-size="7.9" font-weight="bold" text-anchor="middle" fill="#e6c2e0">DLPFNKSNARSRYHKYKHKYKHKFIETL---KR</text>
<text x="785.5" y="172.59" font-size="7.9" font-weight="bold" text-anchor="middle" fill="#f4d4ee">K</text>
<text x="181.3 518.3" y="184.16" font-size="7.9" font-weight="bold" text-anchor="middle" fill="#b0b0b0">IG</text>
<text x="192.9 204.6 227.8 239.4 251.0 274.3 285.9 297.5 320.8 332.4 344.0 390.5 402.1 413.7 436.9 448.6 460.2 471.8 483.4 495.0 564.8 599.6 622.9 634.5 646.1 681.0 692.6 704.2 750.7 762.3 866.9 1006.3 1041.2 1087.7 1180.6 1203.9 1250.3 1285.2 1296.8 1308.4 1320.1 1331.7 1343.3 1354.9 1366.5 1378.2 1389.8" y="184.16" font-size="7.9" font-weight="bold" text-anchor="middle" fill="#2a2a2a">KGTATSLRIAAAPLLSGITQILAHVVYYNLLQADIGDGDDSHVTDFL</text>
<text x="216.2 262.6 309.1 367.2 425.3 541.5 553.1 588.0 611.2 715.8 727.4 739.1" y="184.16" font-size="7.9" font-weight="bold" text-anchor="middle" fill="#4a2a10">SLSLASLVR--G</text>
<text x="355.6 506.7 576.4 669.3" y="184.16" font-size="7.9" font-weight="bold" text-anchor="middle" fill="#4a3010">VNSD</text>
<text x="378.8 529.9 890.1 983.1" y="184.16" font-size="7.9" font-weight="bold" text-anchor="middle" fill="#1a1a1a">ILKG</text>
<text x="657.7" y="184.16" font-size="7.9" font-weight="bold" text-anchor="middle" fill="#3a1a35">I</text>
<text x="773.9 797.2 808.8 820.4 832.0 843.6 855.3 878.5 901.7 913.4 925.0 936.6 948.2 959.8 971.5 994.7 1017.9 1029.6 1052.8 1064.4 1076.0 1099.3 1110.9 1122.5 1134.1 1145.8 1157.4 1169.0 1192.2 1215.5 1227.1 1238.7 1262.0 1273.6" y="184.16" font-size="7.9" font-weight="bold" text-anchor="middle" fill="#e6c2e0">DLPFNKSNARSRYHKYKHKYKHKFIGETL---KR</text>
<text x="785.5" y="184.16" font-size="7.9" font-weight="bold" text-anchor="middle" fill="#f4d4ee">K</text>
<text x="181.3 518.3" y="195.72" font-size="7.9" font-weight="bold" text-anchor="middle" fill="#b0b0b0">IG</text>
<text x="192.9 204.6 227.8 239.4 251.0 274.3 285.9 297.5 320.8 332.4 344.0 390.5 402.1 436.9 448.6 460.2 471.8 483.4 495.0 564.8 599.6 622.9 634.5 646.1 681.0 692.6 704.2 750.7 762.3 866.9 1006.3 1041.2 1087.7 1180.6 1203.9 1250.3 1285.2 1296.8 1308.4 1320.1 1331.7 1343.3 1354.9 1366.5 1378.2 1389.8" y="195.72" font-size="7.9" font-weight="bold" text-anchor="middle" fill="#2a2a2a">KGTATSLRIAAAPLSGITQILAHVVYYNLLQADIGDGDDSHVTDFL</text>
<text x="216.2 262.6 309.1 367.2 425.3 541.5 553.1 588.0 611.2 715.8 727.4 739.1" y="195.72" font-size="7.9" font-weight="bold" text-anchor="middle" fill="#4a2a10">SLSLASLVR--G</text>
<text x="355.6 413.7 506.7 576.4 669.3" y="195.72" font-size="7.9" font-weight="bold" text-anchor="middle" fill="#4a3010">VFNSD</text>
<text x="378.8 529.9 890.1 983.1" y="195.72" font-size="7.9" font-weight="bold" text-anchor="middle" fill="#1a1a1a">ILKG</text>
<text x="657.7" y="195.72" font-size="7.9" font-weight="bold" text-anchor="middle" fill="#3a1a35">I</text>
<text x="773.9 797.2 808.8 820.4 832.0 843.6 855.3 878.5 901.7 913.4 925.0 936.6 948.2 959.8 971.5 994.7 1017.9 1029.6 1052.8 1064.4 1076.0 1110.9 1122.5 1134.1 1145.8 1157.4 1169.0 1192.2 1215.5 1227.1 1238.7 1262.0 1273.6" y="195.72" font-size="7.9" font-weight="bold" text-anchor="middle" fill="#e6c2e0">DLPFNKSNARSRYHKYKHKYKKFIGETL---KR</text>
<text x="785.5" y="195.72" font-size="7.9" font-weight="bold" text-anchor="middle" fill="#f4d4ee">K</text>
<text x="181.3 518.3" y="207.29" font-size="7.9" font-weight="bold" text-anchor="middle" fill="#b0b0b0">IG</text>
<text x="192.9 204.6 227.8 239.4 251.0 274.3 285.9 297.5 320.8 332.4 344.0 390.5 402.1 413.7 436.9 448.6 460.2 471.8 483.4 495.0 564.8 599.6 622.9 634.5 646.1 681.0 692.6 704.2 750.7 762.3 1006.3 1041.2 1087.7 1180.6 1203.9 1250.3 1285.2 1296.8 1308.4 1320.1 1331.7 1343.3 1354.9 1366.5 1378.2 1389.8" y="207.29" font-size="7.9" font-weight="bold" text-anchor="middle" fill="#2a2a2a">KGTATSLRIAAAPLLSGITQILAHVVYYNLQADIGDGDDSHVTDFL</text>
<text x="216.2 262.6 309.1 367.2 425.3 541.5 553.1 588.0 611.2 715.8 727.4 739.1" y="207.29" font-size="7.9" font-weight="bold" text-anchor="middle" fill="#4a2a10">SLSLASLVR--G</text>
<text x="355.6 506.7 576.4 669.3" y="207.29" font-size="7.9" font-weight="bold" text-anchor="middle" fill="#4a3010">VNSD</text>
<text x="378.8 529.9 890.1 983.1" y="207.29" font-size="7.9" font-weight="bold" text-anchor="middle" fill="#1a1a1a">ILKG</text>
<text x="657.7" y="207.29" font-size="7.9" font-weight="bold" text-anchor="middle" fill="#3a1a35">I</text>
<text x="773.9 797.2 808.8 820.4 878.5 901.7 913.4 925.0 936.6 948.2 959.8 971.5 994.7 1017.9 1029.6 1052.8 1064.4 1076.0 1099.3 1110.9 1122.5 1134.1 1145.8 1157.4 1169.0 1192.2 1215.5 1227.1 1238.7 1262.0 1273.6" y="207.29" font-size="7.9" font-weight="bold" text-anchor="middle" fill="#e6c2e0">DLPFNARSRYHKYKHKYKHKFIGETL---KR</text>
<text x="785.5" y="207.29" font-size="7.9" font-weight="bold" text-anchor="middle" fill="#f4d4ee">K</text>
<text x="181.3 239.4 320.8 518.3 1238.7" y="218.85" font-size="7.9" font-weight="bold" text-anchor="middle" fill="#b0b0b0">IVTG-</text>
<text x="192.9 204.6 227.8 251.0 274.3 285.9 297.5 332.4 344.0 390.5 402.1 413.7 436.9 448.6 460.2 471.8 483.4 495.0 564.8 599.6 622.9 634.5 646.1 681.0 692.6 704.2 750.7 762.3 1006.3 1041.2 1087.7 1250.3 1285.2 1296.8 1308.4 1320.1 1331.7 1343.3 1354.9 1366.5 1378.2 1389.8" y="218.85" font-size="7.9" font-weight="bold" text-anchor="middle" fill="#2a2a2a">KGTTSLRAAAPLLSGITQILAHVVYYNLQADDGDDSHVTDFL</text>
<text x="216.2 309.1 367.2 425.3 541.5 553.1 588.0 611.2 715.8 727.4 739.1" y="218.85" font-size="7.9" font-weight="bold" text-anchor="middle" fill="#4a2a10">SSLASLVR--G</text>
<text x="355.6 506.7 576.4 669.3" y="218.85" font-size="7.9" font-weight="bold" text-anchor="middle" fill="#4a3010">VNSD</text>
<text x="378.8 529.9 890.1 983.1" y="218.85" font-size="7.9" font-weight="bold" text-anchor="middle" fill="#1a1a1a">ILKG</text>
<text x="657.7 1203.9" y="218.85" font-size="7.9" font-weight="bold" text-anchor="middle" fill="#3a1a35">I-</text>
<text x="773.9 797.2 808.8 820.4 878.5 901.7 913.4 925.0 936.6 948.2 959.8 971.5 994.7 1017.9 1029.6 1052.8 1064.4 1076.0 1099.3 1110.9 1122.5 1134.1 1145.8 1157.4 1192.2 1215.5 1227.1 1262.0 1273.6" y="218.85" font-size="7.9" font-weight="bold" text-anchor="middle" fill="#e6c2e0">DLPFNARSRYHKYKHKYKHKFIGEL--KR</text>
<text x="785.5" y="218.85" font-size="7.9" font-weight="bold" text-anchor="middle" fill="#f4d4ee">K</text>
<text x="181.3 518.3" y="230.42" font-size="7.9" font-weight="bold" text-anchor="middle" fill="#b0b0b0">IG</text>
<text x="192.9 204.6 227.8 239.4 251.0 274.3 285.9 297.5 320.8 332.4 344.0 390.5 402.1 413.7 436.9 448.6 460.2 471.8 483.4 495.0 564.8 599.6 622.9 634.5 646.1 681.0 692.6 704.2 750.7 762.3 866.9 1006.3 1041.2 1087.7 1180.6 1203.9 1250.3 1285.2 1296.8 1308.4 1320.1 1331.7 1343.3 1354.9 1366.5 1378.2 1389.8" y="230.42" font-size="7.9" font-weight="bold" text-anchor="middle" fill="#2a2a2a">KGTATSLRIAAAPLLSGITQILAHVVYYNLLQADIGDGDDSHVTDFL</text>
<text x="216.2 262.6 309.1 367.2 425.3 541.5 553.1 588.0 611.2 715.8 727.4 739.1" y="230.42" font-size="7.9" font-weight="bold" text-anchor="middle" fill="#4a2a10">SLSLASLVR--G</text>
<text x="355.6 506.7 576.4 669.3" y="230.42" font-size="7.9" font-weight="bold" text-anchor="middle" fill="#4a3010">VNSD</text>
<text x="378.8 529.9 890.1 983.1" y="230.42" font-size="7.9" font-weight="bold" text-anchor="middle" fill="#1a1a1a">ILKG</text>
<text x="657.7" y="230.42" font-size="7.9" font-weight="bold" text-anchor="middle" fill="#3a1a35">I</text>
<text x="773.9 797.2 808.8 820.4 843.6 878.5 901.7 913.4 925.0 936.6 948.2 959.8 971.5 994.7 1017.9 1029.6 1052.8 1064.4 1076.0 1099.3 1110.9 1122.5 1134.1 1145.8 1157.4 1169.0 1192.2 1215.5 1227.1 1238.7 1262.0 1273.6" y="230.42" font-size="7.9" font-weight="bold" text-anchor="middle" fill="#e6c2e0">DLPFKNARSRYHKYKHKYKHKFIGETL---KR</text>
<text x="785.5" y="230.42" font-size="7.9" font-weight="bold" text-anchor="middle" fill="#f4d4ee">K</text>
<text x="181.3 518.3" y="241.98" font-size="7.9" font-weight="bold" text-anchor="middle" fill="#b0b0b0">IG</text>
<text x="192.9 204.6 227.8 239.4 251.0 274.3 285.9 297.5 320.8 332.4 344.0 390.5 402.1 413.7 436.9 448.6 460.2 471.8 483.4 495.0 564.8 599.6 622.9 634.5 646.1 681.0 692.6 704.2 750.7 762.3 866.9 1006.3 1041.2 1087.7 1180.6 1203.9 1250.3 1285.2 1296.8 1308.4 1320.1 1331.7 1343.3 1354.9 1366.5 1378.2 1389.8" y="241.98" font-size="7.9" font-weight="bold" text-anchor="middle" fill="#2a2a2a">KGTATSLRIAAAPLLSGITQILAHVVYYNLLQADIGDGDDSHVTDFL</text>
<text x="216.2 262.6 309.1 367.2 425.3 541.5 553.1 588.0 611.2 715.8 727.4 739.1" y="241.98" font-size="7.9" font-weight="bold" text-anchor="middle" fill="#4a2a10">SLSLASLVR--G</text>
<text x="355.6 506.7 576.4 669.3" y="241.98" font-size="7.9" font-weight="bold" text-anchor="middle" fill="#4a3010">VNSD</text>
<text x="378.8 529.9 890.1 983.1" y="241.98" font-size="7.9" font-weight="bold" text-anchor="middle" fill="#1a1a1a">ILKG</text>
<text x="657.7" y="241.98" font-size="7.9" font-weight="bold" text-anchor="middle" fill="#3a1a35">I</text>
<text x="773.9 797.2 808.8 820.4 832.0 843.6 855.3 878.5 901.7 913.4 925.0 936.6 948.2 959.8 971.5 994.7 1017.9 1029.6 1052.8 1064.4 1076.0 1099.3 1110.9 1122.5 1134.1 1145.8 1157.4 1169.0 1192.2 1215.5 1227.1 1238.7 1262.0 1273.6" y="241.98" font-size="7.9" font-weight="bold" text-anchor="middle" fill="#e6c2e0">DLPFNKSNARSRYHKYKHKYKHKFIGETL---KR</text>
<text x="785.5" y="241.98" font-size="7.9" font-weight="bold" text-anchor="middle" fill="#f4d4ee">K</text>
<text x="181.3 192.9 204.6 239.4 251.0 274.3 285.9 297.5 320.8 344.0 355.6 390.5 402.1 413.7 436.9 448.6 460.2 471.8 483.4 506.7 518.3 564.8 576.4 588.0 599.6 611.2 715.8 727.4 739.1 785.5 866.9 1006.3 1087.7 1180.6 1203.9 1250.3 1285.2 1296.8 1308.4 1320.1 1331.7 1343.3 1354.9 1366.5 1378.2 1389.8" y="253.55" font-size="7.9" font-weight="bold" text-anchor="middle" fill="#2a2a2a">TKGATSLRIAAAPLLSGITKEIAALTEFRRLQDIGDGDDSHVTDFL</text>
<text x="216.2 262.6 309.1 367.2 425.3 541.5 553.1" y="253.55" font-size="7.9" font-weight="bold" text-anchor="middle" fill="#4a2a10">SLSLASL</text>
<text x="227.8 495.0" y="253.55" font-size="7.9" font-weight="bold" text-anchor="middle" fill="#b0b0b0">IH</text>
<text x="332.4" y="253.55" font-size="7.9" font-weight="bold" text-anchor="middle" fill="#4a3010">V</text>
<text x="378.8 529.9 890.1 983.1" y="253.55" font-size="7.9" font-weight="bold" text-anchor="middle" fill="#1a1a1a">ILKG</text>
<text x="622.9 669.3 681.0 704.2 750.7 762.3 773.9 797.2 808.8 820.4 832.0 843.6 855.3 878.5 901.7 913.4 925.0 936.6 948.2 959.8 971.5 994.7 1017.9 1029.6 1052.8 1064.4 1076.0 1099.3 1110.9 1122.5 1134.1 1145.8 1157.4 1169.0 1192.2 1215.5 1227.1 1238.7 1262.0 1273.6" y="253.55" font-size="7.9" font-weight="bold" text-anchor="middle" fill="#e6c2e0">V--D-IDLPFNKSNARSRYHKYKHKYKHKFIGETL---KR</text>
<text x="634.5 646.1 692.6 1041.2" y="253.55" font-size="7.9" font-weight="bold" text-anchor="middle" fill="#f4d4ee">---V</text>
<text x="657.7" y="253.55" font-size="7.9" font-weight="bold" text-anchor="middle" fill="#3a1a35">I</text>
<text x="181.3 192.9 204.6 239.4 251.0 274.3 285.9 297.5 320.8 344.0 355.6 390.5 413.7 483.4 506.7 518.3 576.4 588.0 599.6 611.2 715.8 727.4 739.1 785.5 1006.3 1087.7 1180.6 1203.9 1250.3 1285.2 1296.8 1308.4 1320.1 1331.7 1343.3 1354.9 1366.5 1378.2 1389.8" y="265.11" font-size="7.9" font-weight="bold" text-anchor="middle" fill="#2a2a2a">TKGATSLRIAAALTKEAALTEFRRQDIGDGDDSHVTDFL</text>
<text x="216.2 262.6 309.1 367.2" y="265.11" font-size="7.9" font-weight="bold" text-anchor="middle" fill="#4a2a10">SLSL</text>
<text x="227.8" y="265.11" font-size="7.9" font-weight="bold" text-anchor="middle" fill="#b0b0b0">I</text>
<text x="332.4" y="265.11" font-size="7.9" font-weight="bold" text-anchor="middle" fill="#4a3010">V</text>
<text x="378.8 529.9 890.1 983.1" y="265.11" font-size="7.9" font-weight="bold" text-anchor="middle" fill="#1a1a1a">ILKG</text>
<text x="622.9 669.3 681.0 704.2 750.7 762.3 773.9 797.2 808.8 820.4 878.5 901.7 913.4 925.0 936.6 948.2 959.8 971.5 994.7 1017.9 1029.6 1052.8 1064.4 1076.0 1099.3 1110.9 1122.5 1134.1 1145.8 1157.4 1169.0 1192.2 1215.5 1227.1 1238.7 1262.0 1273.6" y="265.11" font-size="7.9" font-weight="bold" text-anchor="middle" fill="#e6c2e0">V--D-IDLPFNARSRYHKYKHKYKHKFIGETL---KR</text>
<text x="634.5 646.1 692.6 1041.2" y="265.11" font-size="7.9" font-weight="bold" text-anchor="middle" fill="#f4d4ee">---V</text>
<text x="657.7" y="265.11" font-size="7.9" font-weight="bold" text-anchor="middle" fill="#3a1a35">I</text>
<text x="181.3 192.9 204.6 239.4 251.0 274.3 285.9 297.5 320.8 344.0 355.6 390.5 402.1 413.7 436.9 448.6 460.2 471.8 483.4 506.7 518.3 564.8 576.4 588.0 599.6 611.2 715.8 727.4 739.1 785.5 1006.3 1087.7 1180.6 1203.9 1250.3 1285.2 1296.8 1308.4 1320.1 1331.7 1343.3 1354.9 1366.5 1378.2 1389.8" y="276.68" font-size="7.9" font-weight="bold" text-anchor="middle" fill="#2a2a2a">TKGATSLRIAAAPLLSGITKEIAALTEFRRQDIGDGDDSHVTDFL</text>
<text x="216.2 262.6 309.1 367.2 425.3 541.5 553.1" y="276.68" font-size="7.9" font-weight="bold" text-anchor="middle" fill="#4a2a10">SLSLASL</text>
<text x="227.8 495.0" y="276.68" font-size="7.9" font-weight="bold" text-anchor="middle" fill="#b0b0b0">IH</text>
<text x="332.4" y="276.68" font-size="7.9" font-weight="bold" text-anchor="middle" fill="#4a3010">V</text>
<text x="378.8 529.9 890.1 983.1" y="276.68" font-size="7.9" font-weight="bold" text-anchor="middle" fill="#1a1a1a">ILKG</text>
<text x="622.9 669.3 681.0 704.2 750.7 762.3 773.9 797.2 808.8 820.4 878.5 901.7 913.4 925.0 936.6 948.2 959.8 971.5 994.7 1017.9 1029.6 1064.4 1076.0 1099.3 1110.9 1122.5 1134.1 1145.8 1157.4 1169.0 1192.2 1215.5 1227.1 1238.7 1262.0 1273.6" y="276.68" font-size="7.9" font-weight="bold" text-anchor="middle" fill="#e6c2e0">V--D-IDLPFNARSRYHKYKHYKHKFIGETL---KR</text>
<text x="634.5 646.1 692.6 1041.2" y="276.68" font-size="7.9" font-weight="bold" text-anchor="middle" fill="#f4d4ee">---V</text>
<text x="657.7" y="276.68" font-size="7.9" font-weight="bold" text-anchor="middle" fill="#3a1a35">I</text>
<text x="181.3 192.9 204.6 239.4 251.0 274.3 285.9 297.5 320.8 344.0 355.6 390.5 402.1 413.7 436.9 448.6 460.2 471.8 483.4 506.7 518.3 576.4 588.0 599.6 611.2 715.8 727.4 739.1 785.5 1006.3 1087.7 1180.6 1203.9 1250.3 1285.2 1296.8 1308.4 1320.1 1331.7 1343.3 1354.9 1366.5 1378.2 1389.8" y="288.24" font-size="7.9" font-weight="bold" text-anchor="middle" fill="#2a2a2a">TKGATSLRIAAAPLLSGITKEAALTEFRRQDIGDGDDSHVTDFL</text>
<text x="216.2 262.6 309.1 367.2 425.3 541.5 553.1" y="288.24" font-size="7.9" font-weight="bold" text-anchor="middle" fill="#4a2a10">SLSLASL</text>
<text x="227.8 495.0" y="288.24" font-size="7.9" font-weight="bold" text-anchor="middle" fill="#b0b0b0">IH</text>
<text x="332.4" y="288.24" font-size="7.9" font-weight="bold" text-anchor="middle" fill="#4a3010">V</text>
<text x="378.8 529.9 890.1 983.1" y="288.24" font-size="7.9" font-weight="bold" text-anchor="middle" fill="#1a1a1a">ILKG</text>
<text x="622.9 669.3 681.0 704.2 750.7 762.3 773.9 797.2 808.8 820.4 878.5 901.7 913.4 925.0 936.6 948.2 959.8 971.5 994.7 1017.9 1029.6 1064.4 1076.0 1099.3 1110.9 1122.5 1134.1 1145.8 1157.4 1169.0 1192.2 1215.5 1227.1 1238.7 1262.0 1273.6" y="288.24" font-size="7.9" font-weight="bold" text-anchor="middle" fill="#e6c2e0">V--D-IDLPFNARSRYHKYKHYKHKFIGETL---KR</text>
<text x="634.5 646.1 692.6 1041.2" y="288.24" font-size="7.9" font-weight="bold" text-anchor="middle" fill="#f4d4ee">---V</text>
<text x="657.7" y="288.24" font-size="7.9" font-weight="bold" text-anchor="middle" fill="#3a1a35">I</text>
<text x="192.9 204.6 227.8 239.4 251.0 274.3 285.9 320.8 344.0 355.6 390.5 402.1 413.7 436.9 448.6 460.2 471.8 483.4 495.0 506.7 518.3 564.8 576.4 715.8 727.4 739.1 785.5 866.9 1006.3 1041.2 1087.7 1180.6 1203.9 1250.3 1285.2 1296.8 1308.4 1320.1 1331.7 1343.3 1354.9 1366.5 1378.2 1389.8" y="299.81" font-size="7.9" font-weight="bold" text-anchor="middle" fill="#2a2a2a">KGTATSLIAAAPLLSGITQKEIAEFRRLQADIGDGDDSHVTDFL</text>
<text x="216.2 309.1 367.2 425.3 553.1 588.0 611.2" y="299.81" font-size="7.9" font-weight="bold" text-anchor="middle" fill="#4a2a10">SSLALVR</text>
<text x="297.5 599.6" y="299.81" font-size="7.9" font-weight="bold" text-anchor="middle" fill="#b0b0b0">WF</text>
<text x="332.4" y="299.81" font-size="7.9" font-weight="bold" text-anchor="middle" fill="#4a3010">V</text>
<text x="378.8 529.9 890.1 983.1" y="299.81" font-size="7.9" font-weight="bold" text-anchor="middle" fill="#1a1a1a">ILKG</text>
<text x="622.9 669.3 681.0 704.2 750.7 762.3 773.9 797.2 808.8 820.4 832.0 843.6 855.3 878.5 901.7 913.4 925.0 936.6 948.2 959.8 971.5 994.7 1017.9 1029.6 1052.8 1064.4 1076.0 1099.3 1110.9 1122.5 1134.1 1145.8 1157.4 1169.0 1192.2 1215.5 1227.1 1238.7 1262.0 1273.6" y="299.81" font-size="7.9" font-weight="bold" text-anchor="middle" fill="#e6c2e0">V--D-IDLPFNKSNARSRYHKYKHKYKHKFIGETL---KR</text>
<text x="634.5 646.1 692.6" y="299.81" font-size="7.9" font-weight="bold" text-anchor="middle" fill="#f4d4ee">---</text>
<text x="657.7" y="299.81" font-size="7.9" font-weight="bold" text-anchor="middle" fill="#3a1a35">I</text>
<text x="181.3 192.9 204.6 227.8 239.4 251.0 274.3 285.9 320.8 344.0 355.6 390.5 402.1 413.7 436.9 448.6 460.2 471.8 483.4 495.0 506.7 518.3 564.8 576.4 715.8 727.4 739.1 785.5 866.9 1006.3 1041.2 1087.7 1180.6 1203.9 1250.3 1285.2 1296.8 1308.4 1320.1 1331.7 1343.3 1354.9 1366.5 1378.2" y="311.37" font-size="7.9" font-weight="bold" text-anchor="middle" fill="#2a2a2a">TKGTATSLIAAAPLLSGITQKEIAEFRRLQADIGDGDDSHVTDF</text>
<text x="216.2 262.6 309.1 367.2 425.3 553.1 588.0 611.2" y="311.37" font-size="7.9" font-weight="bold" text-anchor="middle" fill="#4a2a10">SLSLALVR</text>
<text x="297.5 599.6" y="311.37" font-size="7.9" font-weight="bold" text-anchor="middle" fill="#b0b0b0">WF</text>
<text x="332.4 1389.8" y="311.37" font-size="7.9" font-weight="bold" text-anchor="middle" fill="#4a3010">VF</text>
<text x="378.8 529.9 890.1 983.1" y="311.37" font-size="7.9" font-weight="bold" text-anchor="middle" fill="#1a1a1a">ILKG</text>
<text x="622.9 669.3 681.0 704.2 750.7 762.3 773.9 797.2 808.8 820.4 832.0 843.6 855.3 878.5 901.7 913.4 925.0 936.6 948.2 959.8 971.5 994.7 1017.9 1029.6 1052.8 1064.4 1076.0 1099.3 1110.9 1122.5 1134.1 1145.8 1157.4 1169.0 1192.2 1215.5 1227.1 1238.7 1262.0 1273.6" y="311.37" font-size="7.9" font-weight="bold" text-anchor="middle" fill="#e6c2e0">V--D-IDLPFNKSNARSRYHKYKHKYKHKFIGETL---KR</text>
<text x="634.5 646.1 692.6" y="311.37" font-size="7.9" font-weight="bold" text-anchor="middle" fill="#f4d4ee">---</text>
<text x="657.7" y="311.37" font-size="7.9" font-weight="bold" text-anchor="middle" fill="#3a1a35">I</text>
<text x="181.3 192.9 204.6 227.8 239.4 251.0 274.3 285.9 320.8 344.0 355.6 390.5 402.1 413.7 436.9 448.6 460.2 471.8 483.4 495.0 506.7 518.3 564.8 576.4 715.8 727.4 739.1 785.5 866.9 1006.3 1041.2 1087.7 1180.6 1203.9 1250.3 1285.2 1296.8 1308.4 1320.1 1331.7 1343.3 1354.9 1366.5 1378.2" y="322.94" font-size="7.9" font-weight="bold" text-anchor="middle" fill="#2a2a2a">TKGTATSLIAAAPLLSGITQKEIAEFRRLQADIGDGDDSHVTDF</text>
<text x="216.2 262.6 309.1 367.2 425.3 541.5 553.1 588.0 611.2" y="322.94" font-size="7.9" font-weight="bold" text-anchor="middle" fill="#4a2a10">SLSLASLVR</text>
<text x="297.5 599.6" y="322.94" font-size="7.9" font-weight="bold" text-anchor="middle" fill="#b0b0b0">WF</text>
<text x="332.4 1389.8" y="322.94" font-size="7.9" font-weight="bold" text-anchor="middle" fill="#4a3010">VF</text>
<text x="378.8 529.9 890.1 983.1" y="322.94" font-size="7.9" font-weight="bold" text-anchor="middle" fill="#1a1a1a">ILKG</text>
<text x="622.9 669.3 681.0 704.2 750.7 762.3 773.9 797.2 808.8 820.4 832.0 843.6 855.3 878.5 901.7 913.4 925.0 936.6 948.2 959.8 971.5 994.7 1017.9 1029.6 1052.8 1064.4 1076.0 1099.3 1110.9 1122.5 1134.1 1145.8 1157.4 1169.0 1192.2 1215.5 1227.1 1238.7 1262.0 1273.6" y="322.94" font-size="7.9" font-weight="bold" text-anchor="middle" fill="#e6c2e0">V--D-IDLPFNKSNARSRYHKYKHKYKHKFIGETL---KR</text>
<text x="634.5 646.1 692.6" y="322.94" font-size="7.9" font-weight="bold" text-anchor="middle" fill="#f4d4ee">---</text>
<text x="657.7" y="322.94" font-size="7.9" font-weight="bold" text-anchor="middle" fill="#3a1a35">I</text>
<text x="181.3 192.9 204.6 227.8 239.4 251.0 274.3 285.9 320.8 344.0 355.6 390.5 402.1 413.7 436.9 448.6 460.2 471.8 483.4 495.0 506.7 518.3 564.8 576.4 715.8 727.4 739.1 785.5 866.9 1006.3 1041.2 1087.7 1180.6 1203.9 1250.3 1285.2 1296.8 1308.4 1320.1 1331.7 1343.3 1354.9 1366.5 1378.2" y="334.50" font-size="7.9" font-weight="bold" text-anchor="middle" fill="#2a2a2a">TKGTATSLIAAAPLLSGITQKEIAEFRRLQADIGDGDDSHVTDF</text>
<text x="216.2 262.6 309.1 367.2 425.3 541.5 553.1 588.0 611.2" y="334.50" font-size="7.9" font-weight="bold" text-anchor="middle" fill="#4a2a10">SLSLASLVR</text>
<text x="297.5 599.6" y="334.50" font-size="7.9" font-weight="bold" text-anchor="middle" fill="#b0b0b0">WF</text>
<text x="332.4 1389.8" y="334.50" font-size="7.9" font-weight="bold" text-anchor="middle" fill="#4a3010">VF</text>
<text x="378.8 529.9 890.1 983.1" y="334.50" font-size="7.9" font-weight="bold" text-anchor="middle" fill="#1a1a1a">ILKG</text>
<text x="622.9 669.3 681.0 704.2 750.7 762.3 773.9 797.2 808.8 820.4 832.0 843.6 855.3 878.5 901.7 913.4 925.0 936.6 948.2 959.8 971.5 994.7 1017.9 1029.6 1052.8 1064.4 1076.0 1099.3 1110.9 1122.5 1134.1 1145.8 1157.4 1169.0 1192.2 1215.5 1227.1 1238.7 1262.0 1273.6" y="334.50" font-size="7.9" font-weight="bold" text-anchor="middle" fill="#e6c2e0">V--D-IDLPFNKSNARSRYHKYKHKYKHKFIGETL---KR</text>
<text x="634.5 646.1 692.6" y="334.50" font-size="7.9" font-weight="bold" text-anchor="middle" fill="#f4d4ee">---</text>
<text x="657.7" y="334.50" font-size="7.9" font-weight="bold" text-anchor="middle" fill="#3a1a35">I</text>
<text x="181.3 192.9 204.6 227.8 239.4 251.0 274.3 285.9 320.8 344.0 355.6 390.5 402.1 413.7 436.9 448.6 460.2 471.8 483.4 495.0 506.7 518.3 564.8 576.4 715.8 727.4 739.1 785.5 866.9 1006.3 1041.2 1087.7 1180.6 1203.9 1250.3 1285.2 1296.8 1308.4 1320.1 1331.7 1343.3 1354.9 1366.5 1378.2 1389.8" y="346.07" font-size="7.9" font-weight="bold" text-anchor="middle" fill="#2a2a2a">TKGTATSLIAAAPLLSGITQKEIAEFRRLQADIGDGDDSHVTDFL</text>
<text x="216.2 262.6 309.1 367.2 425.3 541.5 553.1 588.0 611.2" y="346.07" font-size="7.9" font-weight="bold" text-anchor="middle" fill="#4a2a10">SLSLASLVR</text>
<text x="297.5 599.6" y="346.07" font-size="7.9" font-weight="bold" text-anchor="middle" fill="#b0b0b0">WF</text>
<text x="332.4" y="346.07" font-size="7.9" font-weight="bold" text-anchor="middle" fill="#4a3010">V</text>
<text x="378.8 529.9 890.1 983.1" y="346.07" font-size="7.9" font-weight="bold" text-anchor="middle" fill="#1a1a1a">ILKG</text>
<text x="622.9 669.3 681.0 704.2 750.7 762.3 773.9 797.2 808.8 820.4 832.0 843.6 855.3 878.5 901.7 913.4 925.0 936.6 948.2 959.8 971.5 994.7 1017.9 1029.6 1052.8 1064.4 1076.0 1099.3 1110.9 1122.5 1134.1 1145.8 1157.4 1169.0 1192.2 1215.5 1227.1 1238.7 1262.0 1273.6" y="346.07" font-size="7.9" font-weight="bold" text-anchor="middle" fill="#e6c2e0">V--D-IDLPFNKSNARSRYHKYKHKYKHKFIGETL---KR</text>
<text x="634.5 646.1 692.6" y="346.07" font-size="7.9" font-weight="bold" text-anchor="middle" fill="#f4d4ee">---</text>
<text x="657.7" y="346.07" font-size="7.9" font-weight="bold" text-anchor="middle" fill="#3a1a35">I</text>
<text x="181.3 192.9 204.6 216.2 227.8 239.4 251.0 262.6 274.3 285.9 297.5 309.1 320.8 332.4 344.0 355.6 367.2 378.8 390.5 402.1 413.7 425.3 436.9 448.6 460.2 471.8 483.4 495.0 506.7 518.3 529.9 541.5 553.1 564.8 576.4 588.0 599.6 611.2 622.9 634.5 646.1 657.7 669.3 681.0 692.6 704.2 715.8 727.4 739.1 750.7 762.3 773.9 785.5 797.2 808.8 820.4 832.0 843.6 855.3 866.9 878.5 890.1 901.7 913.4 925.0 936.6 948.2 959.8 971.5 983.1 994.7 1006.3 1017.9 1029.6 1041.2 1052.8 1064.4 1076.0 1087.7 1099.3 1110.9 1122.5 1134.1 1145.8 1157.4 1169.0 1180.6 1192.2 1203.9 1215.5 1227.1 1238.7 1250.3 1262.0 1273.6 1285.2 1296.8 1308.4 1320.1 1331.7 1343.3 1354.9 1366.5 1378.2 1389.8" y="114" font-size="7.4" font-weight="bold" text-anchor="middle" fill="#a3a3a3">TKGATATPSLRPIAAAVTAPLTLSGITQKEPGPIAALTAHVTGVYYEFRNLGRSSSKNGLSTEQGQNYTDHQNPANDNDQNLTDQAIPGERSDRGGDDSHVTDFL</text>
<text transform="translate(183.01 88.20) rotate(-90)" font-size="7.4" text-anchor="middle" fill="#636363">12</text>
<text transform="translate(194.63 88.20) rotate(-90)" font-size="7.4" text-anchor="middle" fill="#636363">856</text>
<text transform="translate(206.25 88.20) rotate(-90)" font-size="7.4" text-anchor="middle" fill="#636363">1125</text>
<text transform="translate(217.87 88.20) rotate(-90)" font-size="7.4" text-anchor="middle" fill="#636363">1306</text>
<text transform="translate(229.49 88.20) rotate(-90)" font-size="7.4" text-anchor="middle" fill="#636363">1642</text>
<text transform="translate(241.11 88.20) rotate(-90)" font-size="7.4" text-anchor="middle" fill="#636363">1793</text>
<text transform="translate(252.73 88.20) rotate(-90)" font-size="7.4" text-anchor="middle" fill="#636363">1854</text>
<text transform="translate(264.35 88.20) rotate(-90)" font-size="7.4" text-anchor="middle" fill="#636363">2046</text>
<text transform="translate(275.97 88.20) rotate(-90)" font-size="7.4" text-anchor="middle" fill="#636363">2083</text>
<text transform="translate(287.59 88.20) rotate(-90)" font-size="7.4" text-anchor="middle" fill="#636363">2084</text>
<text transform="translate(299.21 88.20) rotate(-90)" font-size="7.4" text-anchor="middle" fill="#636363">2159</text>
<text transform="translate(310.83 88.20) rotate(-90)" font-size="7.4" text-anchor="middle" fill="#636363">2287</text>
<text transform="translate(322.45 88.20) rotate(-90)" font-size="7.4" text-anchor="middle" fill="#636363">2346</text>
<text transform="translate(334.07 88.20) rotate(-90)" font-size="7.4" text-anchor="middle" fill="#636363">2529</text>
<text transform="translate(345.69 88.20) rotate(-90)" font-size="7.4" text-anchor="middle" fill="#636363">2710</text>
<text transform="translate(357.31 88.20) rotate(-90)" font-size="7.4" text-anchor="middle" fill="#636363">2855</text>
<text transform="translate(368.93 88.20) rotate(-90)" font-size="7.4" text-anchor="middle" fill="#636363">2930</text>
<text transform="translate(380.55 88.20) rotate(-90)" font-size="7.4" text-anchor="middle" fill="#636363">3255</text>
<text transform="translate(392.17 88.20) rotate(-90)" font-size="7.4" text-anchor="middle" fill="#636363">3357</text>
<text transform="translate(403.79 88.20) rotate(-90)" font-size="7.4" text-anchor="middle" fill="#636363">3395</text>
<text transform="translate(415.41 88.20) rotate(-90)" font-size="7.4" text-anchor="middle" fill="#636363">3606</text>
<text transform="translate(427.03 88.20) rotate(-90)" font-size="7.4" text-anchor="middle" fill="#636363">3646</text>
<text transform="translate(438.65 88.20) rotate(-90)" font-size="7.4" text-anchor="middle" fill="#636363">3674</text>
<text transform="translate(450.27 88.20) rotate(-90)" font-size="7.4" text-anchor="middle" fill="#636363">3675</text>
<text transform="translate(461.89 88.20) rotate(-90)" font-size="7.4" text-anchor="middle" fill="#636363">3676</text>
<text transform="translate(473.51 88.20) rotate(-90)" font-size="7.4" text-anchor="middle" fill="#636363">3758</text>
<text transform="translate(485.13 88.20) rotate(-90)" font-size="7.4" text-anchor="middle" fill="#636363">4083</text>
<text transform="translate(496.75 88.20) rotate(-90)" font-size="7.4" text-anchor="middle" fill="#636363">4140</text>
<text transform="translate(508.37 88.20) rotate(-90)" font-size="7.4" text-anchor="middle" fill="#636363">4176</text>
<text transform="translate(519.99 88.20) rotate(-90)" font-size="7.4" text-anchor="middle" fill="#636363">4358</text>
<text transform="translate(531.61 88.20) rotate(-90)" font-size="7.4" text-anchor="middle" fill="#636363">4715</text>
<text transform="translate(543.23 88.20) rotate(-90)" font-size="7.4" text-anchor="middle" fill="#636363">5063</text>
<text transform="translate(554.85 88.20) rotate(-90)" font-size="7.4" text-anchor="middle" fill="#636363">5401</text>
<text transform="translate(566.47 88.20) rotate(-90)" font-size="7.4" text-anchor="middle" fill="#636363">5967</text>
<text transform="translate(578.09 88.20) rotate(-90)" font-size="7.4" text-anchor="middle" fill="#636363">6248</text>
<text transform="translate(589.71 88.20) rotate(-90)" font-size="7.4" text-anchor="middle" fill="#636363">6319</text>
<text transform="translate(601.33 88.20) rotate(-90)" font-size="7.4" text-anchor="middle" fill="#636363">7010</text>
<text transform="translate(612.95 88.20) rotate(-90)" font-size="7.4" text-anchor="middle" fill="#636363">19</text>
<text transform="translate(624.57 88.20) rotate(-90)" font-size="7.4" text-anchor="middle" fill="#636363">67</text>
<text transform="translate(636.19 88.20) rotate(-90)" font-size="7.4" text-anchor="middle" fill="#636363">69</text>
<text transform="translate(647.81 88.20) rotate(-90)" font-size="7.4" text-anchor="middle" fill="#636363">70</text>
<text transform="translate(659.43 88.20) rotate(-90)" font-size="7.4" text-anchor="middle" fill="#636363">95</text>
<text transform="translate(671.05 88.20) rotate(-90)" font-size="7.4" text-anchor="middle" fill="#636363">142</text>
<text transform="translate(682.67 88.20) rotate(-90)" font-size="7.4" text-anchor="middle" fill="#636363">143</text>
<text transform="translate(694.29 88.20) rotate(-90)" font-size="7.4" text-anchor="middle" fill="#636363">144</text>
<text transform="translate(705.91 88.20) rotate(-90)" font-size="7.4" text-anchor="middle" fill="#636363">145</text>
<text transform="translate(717.53 88.20) rotate(-90)" font-size="7.4" text-anchor="middle" fill="#636363">156</text>
<text transform="translate(729.15 88.20) rotate(-90)" font-size="7.4" text-anchor="middle" fill="#636363">157</text>
<text transform="translate(740.77 88.20) rotate(-90)" font-size="7.4" text-anchor="middle" fill="#636363">158</text>
<text transform="translate(752.39 88.20) rotate(-90)" font-size="7.4" text-anchor="middle" fill="#636363">211</text>
<text transform="translate(764.01 88.20) rotate(-90)" font-size="7.4" text-anchor="middle" fill="#636363">212</text>
<text transform="translate(775.63 88.20) rotate(-90)" font-size="7.4" text-anchor="middle" fill="#636363">339</text>
<text transform="translate(787.25 88.20) rotate(-90)" font-size="7.4" text-anchor="middle" fill="#636363">346</text>
<text transform="translate(798.87 88.20) rotate(-90)" font-size="7.4" text-anchor="middle" fill="#636363">371</text>
<text transform="translate(810.49 88.20) rotate(-90)" font-size="7.4" text-anchor="middle" fill="#636363">373</text>
<text transform="translate(822.11 88.20) rotate(-90)" font-size="7.4" text-anchor="middle" fill="#636363">375</text>
<text transform="translate(833.73 88.20) rotate(-90)" font-size="7.4" text-anchor="middle" fill="#636363">417</text>
<text transform="translate(845.35 88.20) rotate(-90)" font-size="7.4" text-anchor="middle" fill="#636363">440</text>
<text transform="translate(856.97 88.20) rotate(-90)" font-size="7.4" text-anchor="middle" fill="#636363">446</text>
<text transform="translate(868.59 88.20) rotate(-90)" font-size="7.4" text-anchor="middle" fill="#636363">452</text>
<text transform="translate(880.21 88.20) rotate(-90)" font-size="7.4" text-anchor="middle" fill="#636363">477</text>
<text transform="translate(891.83 88.20) rotate(-90)" font-size="7.4" text-anchor="middle" fill="#636363">478</text>
<text transform="translate(903.45 88.20) rotate(-90)" font-size="7.4" text-anchor="middle" fill="#636363">484</text>
<text transform="translate(915.07 88.20) rotate(-90)" font-size="7.4" text-anchor="middle" fill="#636363">493</text>
<text transform="translate(926.69 88.20) rotate(-90)" font-size="7.4" text-anchor="middle" fill="#636363">496</text>
<text transform="translate(938.31 88.20) rotate(-90)" font-size="7.4" text-anchor="middle" fill="#636363">498</text>
<text transform="translate(949.93 88.20) rotate(-90)" font-size="7.4" text-anchor="middle" fill="#636363">501</text>
<text transform="translate(961.55 88.20) rotate(-90)" font-size="7.4" text-anchor="middle" fill="#636363">505</text>
<text transform="translate(973.17 88.20) rotate(-90)" font-size="7.4" text-anchor="middle" fill="#636363">547</text>
<text transform="translate(984.79 88.20) rotate(-90)" font-size="7.4" text-anchor="middle" fill="#636363">614</text>
<text transform="translate(996.41 88.20) rotate(-90)" font-size="7.4" text-anchor="middle" fill="#636363">655</text>
<text transform="translate(1008.03 88.20) rotate(-90)" font-size="7.4" text-anchor="middle" fill="#636363">675</text>
<text transform="translate(1019.65 88.20) rotate(-90)" font-size="7.4" text-anchor="middle" fill="#636363">679</text>
<text transform="translate(1031.27 88.20) rotate(-90)" font-size="7.4" text-anchor="middle" fill="#636363">681</text>
<text transform="translate(1042.89 88.20) rotate(-90)" font-size="7.4" text-anchor="middle" fill="#636363">701</text>
<text transform="translate(1054.51 88.20) rotate(-90)" font-size="7.4" text-anchor="middle" fill="#636363">764</text>
<text transform="translate(1066.13 88.20) rotate(-90)" font-size="7.4" text-anchor="middle" fill="#636363">796</text>
<text transform="translate(1077.75 88.20) rotate(-90)" font-size="7.4" text-anchor="middle" fill="#636363">856</text>
<text transform="translate(1089.37 88.20) rotate(-90)" font-size="7.4" text-anchor="middle" fill="#636363">950</text>
<text transform="translate(1100.99 88.20) rotate(-90)" font-size="7.4" text-anchor="middle" fill="#636363">954</text>
<text transform="translate(1112.61 88.20) rotate(-90)" font-size="7.4" text-anchor="middle" fill="#636363">969</text>
<text transform="translate(1124.23 88.20) rotate(-90)" font-size="7.4" text-anchor="middle" fill="#636363">981</text>
<text transform="translate(1135.85 88.20) rotate(-90)" font-size="7.4" text-anchor="middle" fill="#636363">9</text>
<text transform="translate(1147.47 88.20) rotate(-90)" font-size="7.4" text-anchor="middle" fill="#636363">3</text>
<text transform="translate(1159.09 88.20) rotate(-90)" font-size="7.4" text-anchor="middle" fill="#636363">19</text>
<text transform="translate(1170.71 88.20) rotate(-90)" font-size="7.4" text-anchor="middle" fill="#636363">63</text>
<text transform="translate(1182.33 88.20) rotate(-90)" font-size="7.4" text-anchor="middle" fill="#636363">82</text>
<text transform="translate(1193.95 88.20) rotate(-90)" font-size="7.4" text-anchor="middle" fill="#636363">13</text>
<text transform="translate(1205.57 88.20) rotate(-90)" font-size="7.4" text-anchor="middle" fill="#636363">30</text>
<text transform="translate(1217.19 88.20) rotate(-90)" font-size="7.4" text-anchor="middle" fill="#636363">31</text>
<text transform="translate(1228.81 88.20) rotate(-90)" font-size="7.4" text-anchor="middle" fill="#636363">32</text>
<text transform="translate(1240.43 88.20) rotate(-90)" font-size="7.4" text-anchor="middle" fill="#636363">33</text>
<text transform="translate(1252.05 88.20) rotate(-90)" font-size="7.4" text-anchor="middle" fill="#636363">63</text>
<text transform="translate(1263.67 88.20) rotate(-90)" font-size="7.4" text-anchor="middle" fill="#636363">203</text>
<text transform="translate(1275.29 88.20) rotate(-90)" font-size="7.4" text-anchor="middle" fill="#636363">204</text>
<text transform="translate(1286.91 88.20) rotate(-90)" font-size="7.4" text-anchor="middle" fill="#636363">215</text>
<text transform="translate(1298.53 88.20) rotate(-90)" font-size="7.4" text-anchor="middle" fill="#636363">340</text>
<text transform="translate(1310.15 88.20) rotate(-90)" font-size="7.4" text-anchor="middle" fill="#636363">377</text>
<text transform="translate(1321.77 88.20) rotate(-90)" font-size="7.4" text-anchor="middle" fill="#636363">26</text>
<text transform="translate(1333.39 88.20) rotate(-90)" font-size="7.4" text-anchor="middle" fill="#636363">47</text>
<text transform="translate(1345.01 88.20) rotate(-90)" font-size="7.4" text-anchor="middle" fill="#636363">82</text>
<text transform="translate(1356.63 88.20) rotate(-90)" font-size="7.4" text-anchor="middle" fill="#636363">120</text>
<text transform="translate(1368.25 88.20) rotate(-90)" font-size="7.4" text-anchor="middle" fill="#636363">119</text>
<text transform="translate(1379.87 88.20) rotate(-90)" font-size="7.4" text-anchor="middle" fill="#636363">120</text>
<text transform="translate(1391.49 88.20) rotate(-90)" font-size="7.4" text-anchor="middle" fill="#636363">37</text>
<line x1="51" y1="117.4" x2="1395" y2="117.4" stroke="#b5b5b5" stroke-width="1"/>
<line x1="175.6" y1="57.5" x2="175.6" y2="349.6" stroke="#c4c4c4" stroke-width="1.1"/>
<line x1="605.0" y1="57.5" x2="605.0" y2="349.6" stroke="#c4c4c4" stroke-width="1.1"/>
<line x1="1127.6" y1="57.5" x2="1127.6" y2="349.6" stroke="#c4c4c4" stroke-width="1.1"/>
<line x1="1139.2" y1="57.5" x2="1139.2" y2="349.6" stroke="#c4c4c4" stroke-width="1.1"/>
<line x1="1185.6" y1="57.5" x2="1185.6" y2="349.6" stroke="#c4c4c4" stroke-width="1.1"/>
<line x1="1313.4" y1="57.5" x2="1313.4" y2="349.6" stroke="#c4c4c4" stroke-width="1.1"/>
<line x1="1324.9" y1="57.5" x2="1324.9" y2="349.6" stroke="#c4c4c4" stroke-width="1.1"/>
<line x1="1360.0" y1="57.5" x2="1360.0" y2="349.6" stroke="#c4c4c4" stroke-width="1.1"/>
<line x1="1383.3" y1="57.5" x2="1383.3" y2="349.6" stroke="#c4c4c4" stroke-width="1.1"/>
<line x1="1395.2" y1="57.5" x2="1395.2" y2="349.6" stroke="#c4c4c4" stroke-width="1.1"/>
<text x="366" y="55" font-size="18" fill="#111">orf1ab</text>
<text x="861" y="55" font-size="18" fill="#111">S</text>
<text x="1126.5" y="55" font-size="18" fill="#111">E</text>
<text x="1153.5" y="55" font-size="18" fill="#111">M</text>
<text x="1243.5" y="55" font-size="18" fill="#111">N</text>
<text transform="translate(1325.6 54.8) rotate(-90)" font-size="18" fill="#111">orf6</text>
<text transform="translate(1350.4 54.8) rotate(-90)" font-size="18" fill="#111">orf7a</text>
<text transform="translate(1373.9 54.8) rotate(-90)" font-size="18" fill="#111">orf8</text>
<text transform="translate(1394.5 54.8) rotate(-90)" font-size="18" fill="#111">orf10</text>
<text x="55.5" y="113.5" font-size="7" fill="#333">Accession</text>
<text x="120.8" y="113.5" font-size="7" fill="#333">Collection Date</text>
<text x="55.6" y="125.98" font-size="7" fill="#8a8a8a">EPI_ISL_6811176</text>
<text x="120.8" y="125.98" font-size="7" fill="#8a8a8a">11/2/2021</text>
<text x="55.6" y="137.55" font-size="7" fill="#8a8a8a">EPI_ISL_9351600</text>
<text x="120.8" y="137.55" font-size="7" fill="#8a8a8a">12/29/2021</text>
<text x="55.6" y="149.11" font-size="7" fill="#8a8a8a">EPI_ISL_8981459</text>
<text x="120.8" y="149.11" font-size="7" fill="#8a8a8a">1/4/2022</text>
<text x="55.6" y="160.68" font-size="7" fill="#8a8a8a">EPI_ISL_8981824</text>
<text x="120.8" y="160.68" font-size="7" fill="#8a8a8a">1/4/2022</text>
<text x="55.6" y="172.24" font-size="7" fill="#8a8a8a">EPI_ISL_8981712</text>
<text x="120.8" y="172.24" font-size="7" fill="#8a8a8a">1/4/2022</text>
<text x="55.6" y="183.81" font-size="7" fill="#8a8a8a">EPI_ISL_8720194</text>
<text x="120.8" y="183.81" font-size="7" fill="#8a8a8a">12/31/2021</text>
<text x="55.6" y="195.37" font-size="7" fill="#8a8a8a">EPI_ISL_9088187</text>
<text x="120.8" y="195.37" font-size="7" fill="#8a8a8a">1/12/2022</text>
<text x="55.6" y="206.94" font-size="7" fill="#8a8a8a">EPI_ISL_9147935</text>
<text x="120.8" y="206.94" font-size="7" fill="#8a8a8a">1/12/2022</text>
<text x="55.6" y="218.50" font-size="7" fill="#8a8a8a">EPI_ISL_9147438</text>
<text x="120.8" y="218.50" font-size="7" fill="#8a8a8a">1/4/2022</text>
<text x="55.6" y="230.07" font-size="7" fill="#8a8a8a">EPI_ISL_10389336</text>
<text x="120.8" y="230.07" font-size="7" fill="#8a8a8a">2/12/2022</text>
<text x="55.6" y="241.63" font-size="7" fill="#8a8a8a">EPI_ISL_10389339</text>
<text x="120.8" y="241.63" font-size="7" fill="#8a8a8a">2/12/2022</text>
<text x="55.6" y="253.20" font-size="7" fill="#8a8a8a">EPI_ISL_8898412</text>
<text x="120.8" y="253.20" font-size="7" fill="#8a8a8a">1/11/2022</text>
<text x="55.6" y="264.76" font-size="7" fill="#8a8a8a">EPI_ISL_8166781</text>
<text x="120.8" y="264.76" font-size="7" fill="#8a8a8a">12/19/2021</text>
<text x="55.6" y="276.33" font-size="7" fill="#8a8a8a">EPI_ISL_8865709</text>
<text x="120.8" y="276.33" font-size="7" fill="#8a8a8a">1/6/2022</text>
<text x="55.6" y="287.89" font-size="7" fill="#8a8a8a">EPI_ISL_8610834</text>
<text x="120.8" y="287.89" font-size="7" fill="#8a8a8a">1/2/2022</text>
<text x="55.6" y="299.46" font-size="7" fill="#8a8a8a">EPI_ISL_9026013</text>
<text x="120.8" y="299.46" font-size="7" fill="#8a8a8a">1/17/2022</text>
<text x="55.6" y="311.02" font-size="7" fill="#8a8a8a">EPI_ISL_9296739</text>
<text x="120.8" y="311.02" font-size="7" fill="#8a8a8a">1/22/2022</text>
<text x="55.6" y="322.59" font-size="7" fill="#8a8a8a">EPI_ISL_9062592</text>
<text x="120.8" y="322.59" font-size="7" fill="#8a8a8a">1/18/2022</text>
<text x="55.6" y="334.15" font-size="7" fill="#8a8a8a">EPI_ISL_9125312</text>
<text x="120.8" y="334.15" font-size="7" fill="#8a8a8a">1/18/2022</text>
<text x="55.6" y="345.72" font-size="7" fill="#8a8a8a">EPI_ISL_9175215</text>
<text x="120.8" y="345.72" font-size="7" fill="#8a8a8a">1/20/2022</text>
<text x="9.3" y="125.4" font-size="9.6" fill="#000" stroke="#000" stroke-width="0.25" textLength="35.6" lengthAdjust="spacingAndGlyphs">AY.119.2</text>
<text x="16.0" y="137.9" font-size="9.6" fill="#000" stroke="#000" stroke-width="0.25" textLength="27.6" lengthAdjust="spacingAndGlyphs">BA.1.1</text>
<rect x="47" y="142.0" width="2.4" height="98.8" fill="#000"/>
<text transform="translate(43 228.5) rotate(-90)" font-size="9.4" font-weight="bold" fill="#111" textLength="73.5" lengthAdjust="spacingAndGlyphs">US Recombinants</text>
<rect x="47" y="246.8" width="2.4" height="42.7" fill="#000"/>
<text transform="translate(43 289.5) rotate(-90)" font-size="9.4" font-weight="bold" fill="#111" textLength="45.2" lengthAdjust="spacingAndGlyphs">UK Clust. 1</text>
<rect x="47" y="294.5" width="2.4" height="57.5" fill="#000"/>
<text transform="translate(43 349.0) rotate(-90)" font-size="9.4" font-weight="bold" fill="#111" textLength="50.2" lengthAdjust="spacingAndGlyphs">UK Clust. 2</text>
<text x="78.3" y="382.8" font-size="10.4" fill="#2a2a2a">Delta</text>
<rect x="110.50" y="373" width="12.3" height="11.8" fill="#f18a24"/>
<rect x="122.72" y="373" width="12.3" height="11.8" fill="#f8ad1c"/>
<rect x="134.94" y="373" width="12.3" height="11.8" fill="#c9ccd2"/>
<rect x="147.16" y="373" width="12.3" height="11.8" fill="#efaedb"/>
<rect x="159.38" y="373" width="12.3" height="11.8" fill="#c386bb"/>
<rect x="171.60" y="373" width="12.3" height="11.8" fill="#7b4a77"/>
<text x="190.8" y="382.8" font-size="10.4" fill="#2a2a2a">Omicron</text>
<rect x="66" y="400" width="12.8" height="11.8" fill="#000"/>
<rect x="66.5" y="411.8" width="11.8" height="12.3" fill="#fff" stroke="#333" stroke-width="1"/>
<text x="83" y="409.9" font-size="10.4" fill="#2a2a2a">Common to neither Omicron nor Delta</text>
<text x="83" y="423.8" font-size="10.4" fill="#2a2a2a">No change from reference</text>
<rect x="625.7" y="367" width="27.1" height="11" fill="#000"/>
<text x="639.2" y="375.6" font-size="7.6" text-anchor="middle" fill="#fff">Δ69-70</text>
<polygon points="740.7,366.3 766.5,366.3 766.5,405.8 681,405.8" fill="#808080"/>
<text x="724.8" y="415.1" font-size="9.7" font-weight="bold" text-anchor="middle" fill="#222">Recombination</text>
<text x="724.8" y="427.9" font-size="9.7" font-weight="bold" text-anchor="middle" fill="#222">point range</text>
<rect x="777.8" y="365.7" width="184.2" height="12.2" fill="#000"/>
<text x="869.9" y="375.6" font-size="11" text-anchor="middle" fill="#fff">Receptor binding domain</text>
<line x1="605.63" y1="604.76" x2="624.94" y2="604.76" stroke="#ececec" stroke-width="0.8"/>
<line x1="605.63" y1="588.32" x2="624.94" y2="588.32" stroke="#ececec" stroke-width="0.8"/>
<line x1="605.63" y1="571.88" x2="624.94" y2="571.88" stroke="#ececec" stroke-width="0.8"/>
<line x1="605.63" y1="555.44" x2="624.94" y2="555.44" stroke="#ececec" stroke-width="0.8"/>
<line x1="624.94" y1="604.76" x2="644.26" y2="604.76" stroke="#ececec" stroke-width="0.8"/>
<line x1="624.94" y1="588.32" x2="644.26" y2="588.32" stroke="#ececec" stroke-width="0.8"/>
<line x1="624.94" y1="571.88" x2="644.26" y2="571.88" stroke="#ececec" stroke-width="0.8"/>
<line x1="624.94" y1="555.44" x2="644.26" y2="555.44" stroke="#ececec" stroke-width="0.8"/>
<line x1="644.26" y1="604.76" x2="663.57" y2="604.76" stroke="#ececec" stroke-width="0.8"/>
<line x1="644.26" y1="588.32" x2="663.57" y2="588.32" stroke="#ececec" stroke-width="0.8"/>
<line x1="644.26" y1="571.88" x2="663.57" y2="571.88" stroke="#ececec" stroke-width="0.8"/>
<line x1="644.26" y1="555.44" x2="663.57" y2="555.44" stroke="#ececec" stroke-width="0.8"/>
<line x1="663.57" y1="604.76" x2="682.88" y2="604.76" stroke="#ececec" stroke-width="0.8"/>
<line x1="663.57" y1="588.32" x2="682.88" y2="588.32" stroke="#ececec" stroke-width="0.8"/>
<line x1="663.57" y1="571.88" x2="682.88" y2="571.88" stroke="#ececec" stroke-width="0.8"/>
<line x1="663.57" y1="555.44" x2="682.88" y2="555.44" stroke="#ececec" stroke-width="0.8"/>
<line x1="682.88" y1="604.76" x2="702.20" y2="604.76" stroke="#ececec" stroke-width="0.8"/>
<line x1="682.88" y1="588.32" x2="702.20" y2="588.32" stroke="#ececec" stroke-width="0.8"/>
<line x1="682.88" y1="571.88" x2="702.20" y2="571.88" stroke="#ececec" stroke-width="0.8"/>
<line x1="682.88" y1="555.44" x2="702.20" y2="555.44" stroke="#ececec" stroke-width="0.8"/>
<line x1="702.20" y1="604.76" x2="721.51" y2="604.76" stroke="#ececec" stroke-width="0.8"/>
<line x1="702.20" y1="588.32" x2="721.51" y2="588.32" stroke="#ececec" stroke-width="0.8"/>
<line x1="702.20" y1="571.88" x2="721.51" y2="571.88" stroke="#ececec" stroke-width="0.8"/>
<line x1="702.20" y1="555.44" x2="721.51" y2="555.44" stroke="#ececec" stroke-width="0.8"/>
<rect x="277.50" y="539.00" width="17.71" height="82.20" fill="#a3a8b4"/>
<rect x="296.81" y="539.00" width="17.71" height="82.20" fill="#a3cbe9"/>
<rect x="316.13" y="539.00" width="17.71" height="82.20" fill="#1a6eae"/>
<rect x="335.44" y="539.00" width="17.71" height="82.20" fill="#f27b20"/>
<rect x="354.75" y="539.00" width="17.71" height="82.20" fill="#1a6eae"/>
<rect x="374.07" y="539.00" width="17.71" height="82.20" fill="#a3cbe9"/>
<rect x="393.38" y="539.00" width="17.71" height="82.20" fill="#a3a8b4"/>
<rect x="412.69" y="539.00" width="17.71" height="82.20" fill="#a3cbe9"/>
<rect x="432.01" y="539.00" width="17.71" height="82.20" fill="#1a6eae"/>
<rect x="451.32" y="539.00" width="17.71" height="82.20" fill="#a3cbe9"/>
<rect x="470.63" y="539.00" width="17.71" height="82.20" fill="#a3a8b4"/>
<rect x="489.95" y="539.00" width="17.71" height="82.20" fill="#a3cbe9"/>
<rect x="509.26" y="539.00" width="17.71" height="82.20" fill="#a3cbe9"/>
<rect x="528.58" y="539.00" width="17.71" height="82.20" fill="#a3cbe9"/>
<rect x="547.89" y="539.00" width="17.71" height="82.20" fill="#1a6eae"/>
<rect x="567.20" y="539.00" width="17.71" height="82.20" fill="#a3cbe9"/>
<rect x="586.52" y="539.00" width="17.71" height="82.20" fill="#a3cbe9"/>
<rect x="721.71" y="539.00" width="17.71" height="82.20" fill="#a3a8b4"/>
<rect x="741.02" y="539.00" width="17.71" height="82.20" fill="#a3a8b4"/>
<rect x="760.34" y="539.00" width="17.71" height="82.20" fill="#a3cbe9"/>
<rect x="779.65" y="539.00" width="17.71" height="82.20" fill="#f27b20"/>
<rect x="798.96" y="539.00" width="17.71" height="82.20" fill="#a3cbe9"/>
<rect x="818.28" y="539.00" width="17.71" height="82.20" fill="#f27b20"/>
<rect x="837.59" y="539.00" width="17.71" height="82.20" fill="#a3a8b4"/>
<rect x="856.90" y="539.00" width="17.71" height="82.20" fill="#a3cbe9"/>
<rect x="876.22" y="539.00" width="17.71" height="82.20" fill="#a3a8b4"/>
<rect x="895.53" y="539.00" width="17.71" height="82.20" fill="#a3a8b4"/>
<rect x="914.84" y="539.00" width="17.71" height="82.20" fill="#1a6eae"/>
<rect x="934.16" y="539.00" width="17.71" height="82.20" fill="#1a6eae"/>
<rect x="953.47" y="539.00" width="17.71" height="82.20" fill="#1a6eae"/>
<rect x="972.78" y="539.00" width="17.71" height="82.20" fill="#a3a8b4"/>
<rect x="992.10" y="539.00" width="17.71" height="82.20" fill="#1a6eae"/>
<rect x="1011.41" y="539.00" width="17.71" height="82.20" fill="#1a6eae"/>
<rect x="1030.73" y="539.00" width="17.71" height="82.20" fill="#a3cbe9"/>
<rect x="1050.04" y="539.00" width="17.71" height="82.20" fill="#f27b20"/>
<rect x="1069.35" y="539.00" width="17.71" height="82.20" fill="#a3a8b4"/>
<rect x="1088.67" y="539.00" width="17.71" height="82.20" fill="#f27b20"/>
<rect x="1107.98" y="539.00" width="17.71" height="82.20" fill="#a3cbe9"/>
<rect x="1127.29" y="539.00" width="17.71" height="82.20" fill="#a3a8b4"/>
<rect x="1146.61" y="539.00" width="17.71" height="82.20" fill="#f27b20"/>
<rect x="1165.92" y="539.00" width="17.71" height="82.20" fill="#a3a8b4"/>
<rect x="1185.23" y="539.00" width="17.71" height="82.20" fill="#f27b20"/>
<rect x="1204.55" y="539.00" width="17.71" height="82.20" fill="#1a6eae"/>
<rect x="1223.86" y="539.00" width="17.71" height="82.20" fill="#a3cbe9"/>
<rect x="1243.17" y="539.00" width="17.71" height="82.20" fill="#f27b20"/>
<rect x="1262.49" y="539.00" width="17.71" height="82.20" fill="#f27b20"/>
<text x="612.09" y="627.50" font-size="30" text-anchor="middle" fill="#505050">*</text>
<text x="631.70" y="627.50" font-size="30" text-anchor="middle" fill="#505050">*</text>
<text x="651.31" y="627.50" font-size="30" text-anchor="middle" fill="#505050">*</text>
<text x="670.93" y="627.50" font-size="30" text-anchor="middle" fill="#505050">*</text>
<text x="690.54" y="627.50" font-size="30" text-anchor="middle" fill="#505050">*</text>
<text x="710.15" y="627.50" font-size="30" text-anchor="middle" fill="#505050">*</text>
<line x1="605.63" y1="688.16" x2="624.94" y2="688.16" stroke="#ececec" stroke-width="0.8"/>
<line x1="605.63" y1="671.42" x2="624.94" y2="671.42" stroke="#ececec" stroke-width="0.8"/>
<line x1="605.63" y1="654.68" x2="624.94" y2="654.68" stroke="#ececec" stroke-width="0.8"/>
<line x1="605.63" y1="637.94" x2="624.94" y2="637.94" stroke="#ececec" stroke-width="0.8"/>
<line x1="624.94" y1="688.16" x2="644.26" y2="688.16" stroke="#ececec" stroke-width="0.8"/>
<line x1="624.94" y1="671.42" x2="644.26" y2="671.42" stroke="#ececec" stroke-width="0.8"/>
<line x1="624.94" y1="654.68" x2="644.26" y2="654.68" stroke="#ececec" stroke-width="0.8"/>
<line x1="624.94" y1="637.94" x2="644.26" y2="637.94" stroke="#ececec" stroke-width="0.8"/>
<line x1="644.26" y1="688.16" x2="663.57" y2="688.16" stroke="#ececec" stroke-width="0.8"/>
<line x1="644.26" y1="671.42" x2="663.57" y2="671.42" stroke="#ececec" stroke-width="0.8"/>
<line x1="644.26" y1="654.68" x2="663.57" y2="654.68" stroke="#ececec" stroke-width="0.8"/>
<line x1="644.26" y1="637.94" x2="663.57" y2="637.94" stroke="#ececec" stroke-width="0.8"/>
<line x1="663.57" y1="688.16" x2="682.88" y2="688.16" stroke="#ececec" stroke-width="0.8"/>
<line x1="663.57" y1="671.42" x2="682.88" y2="671.42" stroke="#ececec" stroke-width="0.8"/>
<line x1="663.57" y1="654.68" x2="682.88" y2="654.68" stroke="#ececec" stroke-width="0.8"/>
<line x1="663.57" y1="637.94" x2="682.88" y2="637.94" stroke="#ececec" stroke-width="0.8"/>
<line x1="682.88" y1="688.16" x2="702.20" y2="688.16" stroke="#ececec" stroke-width="0.8"/>
<line x1="682.88" y1="671.42" x2="702.20" y2="671.42" stroke="#ececec" stroke-width="0.8"/>
<line x1="682.88" y1="654.68" x2="702.20" y2="654.68" stroke="#ececec" stroke-width="0.8"/>
<line x1="682.88" y1="637.94" x2="702.20" y2="637.94" stroke="#ececec" stroke-width="0.8"/>
<line x1="702.20" y1="688.16" x2="721.51" y2="688.16" stroke="#ececec" stroke-width="0.8"/>
<line x1="702.20" y1="671.42" x2="721.51" y2="671.42" stroke="#ececec" stroke-width="0.8"/>
<line x1="702.20" y1="654.68" x2="721.51" y2="654.68" stroke="#ececec" stroke-width="0.8"/>
<line x1="702.20" y1="637.94" x2="721.51" y2="637.94" stroke="#ececec" stroke-width="0.8"/>
<rect x="277.50" y="621.20" width="17.71" height="83.70" fill="#a3a8b4"/>
<rect x="296.81" y="621.20" width="17.71" height="83.70" fill="#a3cbe9"/>
<rect x="316.13" y="621.20" width="17.71" height="83.70" fill="#1a6eae"/>
<rect x="335.44" y="621.20" width="17.71" height="83.70" fill="#f27b20"/>
<rect x="354.75" y="621.20" width="17.71" height="83.70" fill="#1a6eae"/>
<rect x="374.07" y="621.20" width="17.71" height="83.70" fill="#a3cbe9"/>
<rect x="393.38" y="621.20" width="17.71" height="83.70" fill="#a3a8b4"/>
<rect x="412.69" y="621.20" width="17.71" height="83.70" fill="#a3cbe9"/>
<rect x="432.01" y="621.20" width="17.71" height="83.70" fill="#1a6eae"/>
<rect x="451.32" y="621.20" width="17.71" height="83.70" fill="#a3cbe9"/>
<rect x="470.63" y="621.20" width="17.71" height="83.70" fill="#a3a8b4"/>
<rect x="489.95" y="621.20" width="17.71" height="83.70" fill="#a3cbe9"/>
<rect x="509.26" y="621.20" width="17.71" height="83.70" fill="#a3cbe9"/>
<rect x="528.58" y="621.20" width="17.71" height="83.70" fill="#a3cbe9"/>
<rect x="547.89" y="621.20" width="17.71" height="83.70" fill="#1a6eae"/>
<rect x="567.20" y="621.20" width="17.71" height="83.70" fill="#a3cbe9"/>
<rect x="586.52" y="621.20" width="17.71" height="83.70" fill="#a3cbe9"/>
<rect x="721.71" y="621.20" width="17.71" height="83.70" fill="#1a6eae"/>
<rect x="741.02" y="621.20" width="17.71" height="83.70" fill="#1a6eae"/>
<rect x="760.34" y="621.20" width="17.71" height="83.70" fill="#f27b20"/>
<rect x="779.65" y="621.20" width="17.71" height="83.70" fill="#a3cbe9"/>
<rect x="798.96" y="621.20" width="17.71" height="83.70" fill="#f27b20"/>
<rect x="818.28" y="621.20" width="17.71" height="83.70" fill="#a3cbe9"/>
<rect x="837.59" y="621.20" width="17.71" height="83.70" fill="#a3cbe9"/>
<rect x="856.90" y="621.20" width="17.71" height="83.70" fill="#a3a8b4"/>
<rect x="876.22" y="621.20" width="17.71" height="83.70" fill="#1a6eae"/>
<rect x="895.53" y="621.20" width="17.71" height="83.70" fill="#1a6eae"/>
<rect x="914.84" y="621.20" width="17.71" height="83.70" fill="#1a6eae"/>
<rect x="934.16" y="621.20" width="17.71" height="83.70" fill="#f27b20"/>
<rect x="953.47" y="621.20" width="17.71" height="83.70" fill="#a3a8b4"/>
<rect x="972.78" y="621.20" width="17.71" height="83.70" fill="#1a6eae"/>
<rect x="992.10" y="621.20" width="17.71" height="83.70" fill="#a3a8b4"/>
<rect x="1011.41" y="621.20" width="17.71" height="83.70" fill="#a3cbe9"/>
<rect x="1030.73" y="621.20" width="17.71" height="83.70" fill="#f27b20"/>
<rect x="1050.04" y="621.20" width="17.71" height="83.70" fill="#1a6eae"/>
<rect x="1069.35" y="621.20" width="17.71" height="83.70" fill="#a3a8b4"/>
<rect x="1088.67" y="621.20" width="17.71" height="83.70" fill="#a3cbe9"/>
<rect x="1107.98" y="621.20" width="17.71" height="83.70" fill="#a3a8b4"/>
<rect x="1127.29" y="621.20" width="17.71" height="83.70" fill="#1a6eae"/>
<rect x="1146.61" y="621.20" width="17.71" height="83.70" fill="#1a6eae"/>
<rect x="1165.92" y="621.20" width="17.71" height="83.70" fill="#a3cbe9"/>
<rect x="1185.23" y="621.20" width="17.71" height="83.70" fill="#1a6eae"/>
<rect x="1204.55" y="621.20" width="17.71" height="83.70" fill="#a3cbe9"/>
<rect x="1223.86" y="621.20" width="17.71" height="83.70" fill="#1a6eae"/>
<rect x="1243.17" y="621.20" width="17.71" height="83.70" fill="#a3cbe9"/>
<rect x="1262.49" y="621.20" width="17.71" height="83.70" fill="#a3cbe9"/>
<text x="612.09" y="711.90" font-size="30" text-anchor="middle" fill="#505050">*</text>
<text x="631.70" y="711.90" font-size="30" text-anchor="middle" fill="#505050">*</text>
<text x="651.31" y="711.90" font-size="30" text-anchor="middle" fill="#505050">*</text>
<text x="670.93" y="711.90" font-size="30" text-anchor="middle" fill="#505050">*</text>
<text x="690.54" y="711.90" font-size="30" text-anchor="middle" fill="#505050">*</text>
<text x="710.15" y="711.90" font-size="30" text-anchor="middle" fill="#505050">*</text>
<line x1="605.63" y1="771.06" x2="624.94" y2="771.06" stroke="#ececec" stroke-width="0.8"/>
<line x1="605.63" y1="754.52" x2="624.94" y2="754.52" stroke="#ececec" stroke-width="0.8"/>
<line x1="605.63" y1="737.98" x2="624.94" y2="737.98" stroke="#ececec" stroke-width="0.8"/>
<line x1="605.63" y1="721.44" x2="624.94" y2="721.44" stroke="#ececec" stroke-width="0.8"/>
<line x1="624.94" y1="771.06" x2="644.26" y2="771.06" stroke="#ececec" stroke-width="0.8"/>
<line x1="624.94" y1="754.52" x2="644.26" y2="754.52" stroke="#ececec" stroke-width="0.8"/>
<line x1="624.94" y1="737.98" x2="644.26" y2="737.98" stroke="#ececec" stroke-width="0.8"/>
<line x1="624.94" y1="721.44" x2="644.26" y2="721.44" stroke="#ececec" stroke-width="0.8"/>
<line x1="644.26" y1="771.06" x2="663.57" y2="771.06" stroke="#ececec" stroke-width="0.8"/>
<line x1="644.26" y1="754.52" x2="663.57" y2="754.52" stroke="#ececec" stroke-width="0.8"/>
<line x1="644.26" y1="737.98" x2="663.57" y2="737.98" stroke="#ececec" stroke-width="0.8"/>
<line x1="644.26" y1="721.44" x2="663.57" y2="721.44" stroke="#ececec" stroke-width="0.8"/>
<line x1="663.57" y1="771.06" x2="682.88" y2="771.06" stroke="#ececec" stroke-width="0.8"/>
<line x1="663.57" y1="754.52" x2="682.88" y2="754.52" stroke="#ececec" stroke-width="0.8"/>
<line x1="663.57" y1="737.98" x2="682.88" y2="737.98" stroke="#ececec" stroke-width="0.8"/>
<line x1="663.57" y1="721.44" x2="682.88" y2="721.44" stroke="#ececec" stroke-width="0.8"/>
<line x1="682.88" y1="771.06" x2="702.20" y2="771.06" stroke="#ececec" stroke-width="0.8"/>
<line x1="682.88" y1="754.52" x2="702.20" y2="754.52" stroke="#ececec" stroke-width="0.8"/>
<line x1="682.88" y1="737.98" x2="702.20" y2="737.98" stroke="#ececec" stroke-width="0.8"/>
<line x1="682.88" y1="721.44" x2="702.20" y2="721.44" stroke="#ececec" stroke-width="0.8"/>
<line x1="702.20" y1="771.06" x2="721.51" y2="771.06" stroke="#ececec" stroke-width="0.8"/>
<line x1="702.20" y1="754.52" x2="721.51" y2="754.52" stroke="#ececec" stroke-width="0.8"/>
<line x1="702.20" y1="737.98" x2="721.51" y2="737.98" stroke="#ececec" stroke-width="0.8"/>
<line x1="702.20" y1="721.44" x2="721.51" y2="721.44" stroke="#ececec" stroke-width="0.8"/>
<rect x="277.50" y="704.90" width="17.71" height="82.70" fill="#a3a8b4"/>
<rect x="296.81" y="704.90" width="17.71" height="82.70" fill="#a3cbe9"/>
<rect x="316.13" y="704.90" width="17.71" height="82.70" fill="#1a6eae"/>
<rect x="335.44" y="704.90" width="17.71" height="82.70" fill="#f27b20"/>
<rect x="354.75" y="704.90" width="17.71" height="82.70" fill="#1a6eae"/>
<rect x="374.07" y="704.90" width="17.71" height="82.70" fill="#a3cbe9"/>
<rect x="393.38" y="704.90" width="17.71" height="82.70" fill="#a3a8b4"/>
<rect x="412.69" y="704.90" width="17.71" height="82.70" fill="#a3cbe9"/>
<rect x="432.01" y="704.90" width="17.71" height="82.70" fill="#1a6eae"/>
<rect x="451.32" y="704.90" width="17.71" height="82.70" fill="#a3cbe9"/>
<rect x="470.63" y="704.90" width="17.71" height="82.70" fill="#a3a8b4"/>
<rect x="489.95" y="704.90" width="17.71" height="82.70" fill="#a3cbe9"/>
<rect x="509.26" y="704.90" width="17.71" height="82.70" fill="#a3cbe9"/>
<rect x="528.58" y="704.90" width="17.71" height="82.70" fill="#a3cbe9"/>
<rect x="547.89" y="704.90" width="17.71" height="82.70" fill="#1a6eae"/>
<rect x="567.20" y="704.90" width="17.71" height="82.70" fill="#a3cbe9"/>
<rect x="586.52" y="704.90" width="17.71" height="82.70" fill="#a3cbe9"/>
<rect x="721.71" y="704.90" width="17.71" height="82.70" fill="#1a6eae"/>
<rect x="741.02" y="704.90" width="17.71" height="82.70" fill="#1a6eae"/>
<rect x="760.34" y="704.90" width="17.71" height="82.70" fill="#f27b20"/>
<rect x="779.65" y="704.90" width="17.71" height="82.70" fill="#a3cbe9"/>
<rect x="798.96" y="704.90" width="17.71" height="82.70" fill="#f27b20"/>
<rect x="818.28" y="704.90" width="17.71" height="82.70" fill="#a3cbe9"/>
<rect x="837.59" y="704.90" width="17.71" height="82.70" fill="#a3cbe9"/>
<rect x="856.90" y="704.90" width="17.71" height="82.70" fill="#a3a8b4"/>
<rect x="876.22" y="704.90" width="17.71" height="82.70" fill="#1a6eae"/>
<rect x="895.53" y="704.90" width="17.71" height="82.70" fill="#1a6eae"/>
<rect x="914.84" y="704.90" width="17.71" height="82.70" fill="#1a6eae"/>
<rect x="934.16" y="704.90" width="17.71" height="82.70" fill="#f27b20"/>
<rect x="953.47" y="704.90" width="17.71" height="82.70" fill="#a3a8b4"/>
<rect x="972.78" y="704.90" width="17.71" height="82.70" fill="#1a6eae"/>
<rect x="992.10" y="704.90" width="17.71" height="82.70" fill="#a3a8b4"/>
<rect x="1011.41" y="704.90" width="17.71" height="82.70" fill="#a3cbe9"/>
<rect x="1030.73" y="704.90" width="17.71" height="82.70" fill="#f27b20"/>
<rect x="1050.04" y="704.90" width="17.71" height="82.70" fill="#1a6eae"/>
<rect x="1069.35" y="704.90" width="17.71" height="82.70" fill="#a3a8b4"/>
<rect x="1088.67" y="704.90" width="17.71" height="82.70" fill="#a3cbe9"/>
<rect x="1107.98" y="704.90" width="17.71" height="82.70" fill="#a3a8b4"/>
<rect x="1127.29" y="704.90" width="17.71" height="82.70" fill="#1a6eae"/>
<rect x="1146.61" y="704.90" width="17.71" height="82.70" fill="#1a6eae"/>
<rect x="1165.92" y="704.90" width="17.71" height="82.70" fill="#a3cbe9"/>
<rect x="1185.23" y="704.90" width="17.71" height="82.70" fill="#1a6eae"/>
<rect x="1204.55" y="704.90" width="17.71" height="82.70" fill="#a3cbe9"/>
<rect x="1223.86" y="704.90" width="17.71" height="82.70" fill="#1a6eae"/>
<rect x="1243.17" y="704.90" width="17.71" height="82.70" fill="#a3cbe9"/>
<rect x="1262.49" y="704.90" width="17.71" height="82.70" fill="#a3cbe9"/>
<text x="612.09" y="793.20" font-size="30" text-anchor="middle" fill="#505050">*</text>
<text x="631.70" y="793.20" font-size="30" text-anchor="middle" fill="#505050">*</text>
<text x="651.31" y="793.20" font-size="30" text-anchor="middle" fill="#505050">*</text>
<text x="670.93" y="793.20" font-size="30" text-anchor="middle" fill="#505050">*</text>
<text x="690.54" y="793.20" font-size="30" text-anchor="middle" fill="#505050">*</text>
<text x="710.15" y="793.20" font-size="30" text-anchor="middle" fill="#505050">*</text>
<line x1="296.61" y1="854.56" x2="315.93" y2="854.56" stroke="#ececec" stroke-width="0.8"/>
<line x1="296.61" y1="837.82" x2="315.93" y2="837.82" stroke="#ececec" stroke-width="0.8"/>
<line x1="296.61" y1="821.08" x2="315.93" y2="821.08" stroke="#ececec" stroke-width="0.8"/>
<line x1="296.61" y1="804.34" x2="315.93" y2="804.34" stroke="#ececec" stroke-width="0.8"/>
<line x1="315.93" y1="854.56" x2="335.24" y2="854.56" stroke="#ececec" stroke-width="0.8"/>
<line x1="315.93" y1="837.82" x2="335.24" y2="837.82" stroke="#ececec" stroke-width="0.8"/>
<line x1="315.93" y1="821.08" x2="335.24" y2="821.08" stroke="#ececec" stroke-width="0.8"/>
<line x1="315.93" y1="804.34" x2="335.24" y2="804.34" stroke="#ececec" stroke-width="0.8"/>
<line x1="335.24" y1="854.56" x2="354.55" y2="854.56" stroke="#ececec" stroke-width="0.8"/>
<line x1="335.24" y1="837.82" x2="354.55" y2="837.82" stroke="#ececec" stroke-width="0.8"/>
<line x1="335.24" y1="821.08" x2="354.55" y2="821.08" stroke="#ececec" stroke-width="0.8"/>
<line x1="335.24" y1="804.34" x2="354.55" y2="804.34" stroke="#ececec" stroke-width="0.8"/>
<line x1="354.55" y1="854.56" x2="373.87" y2="854.56" stroke="#ececec" stroke-width="0.8"/>
<line x1="354.55" y1="837.82" x2="373.87" y2="837.82" stroke="#ececec" stroke-width="0.8"/>
<line x1="354.55" y1="821.08" x2="373.87" y2="821.08" stroke="#ececec" stroke-width="0.8"/>
<line x1="354.55" y1="804.34" x2="373.87" y2="804.34" stroke="#ececec" stroke-width="0.8"/>
<line x1="373.87" y1="854.56" x2="393.18" y2="854.56" stroke="#ececec" stroke-width="0.8"/>
<line x1="373.87" y1="837.82" x2="393.18" y2="837.82" stroke="#ececec" stroke-width="0.8"/>
<line x1="373.87" y1="821.08" x2="393.18" y2="821.08" stroke="#ececec" stroke-width="0.8"/>
<line x1="373.87" y1="804.34" x2="393.18" y2="804.34" stroke="#ececec" stroke-width="0.8"/>
<line x1="393.18" y1="854.56" x2="412.49" y2="854.56" stroke="#ececec" stroke-width="0.8"/>
<line x1="393.18" y1="837.82" x2="412.49" y2="837.82" stroke="#ececec" stroke-width="0.8"/>
<line x1="393.18" y1="821.08" x2="412.49" y2="821.08" stroke="#ececec" stroke-width="0.8"/>
<line x1="393.18" y1="804.34" x2="412.49" y2="804.34" stroke="#ececec" stroke-width="0.8"/>
<line x1="431.81" y1="854.56" x2="451.12" y2="854.56" stroke="#ececec" stroke-width="0.8"/>
<line x1="431.81" y1="837.82" x2="451.12" y2="837.82" stroke="#ececec" stroke-width="0.8"/>
<line x1="431.81" y1="821.08" x2="451.12" y2="821.08" stroke="#ececec" stroke-width="0.8"/>
<line x1="431.81" y1="804.34" x2="451.12" y2="804.34" stroke="#ececec" stroke-width="0.8"/>
<line x1="451.12" y1="854.56" x2="470.43" y2="854.56" stroke="#ececec" stroke-width="0.8"/>
<line x1="451.12" y1="837.82" x2="470.43" y2="837.82" stroke="#ececec" stroke-width="0.8"/>
<line x1="451.12" y1="821.08" x2="470.43" y2="821.08" stroke="#ececec" stroke-width="0.8"/>
<line x1="451.12" y1="804.34" x2="470.43" y2="804.34" stroke="#ececec" stroke-width="0.8"/>
<line x1="470.43" y1="854.56" x2="489.75" y2="854.56" stroke="#ececec" stroke-width="0.8"/>
<line x1="470.43" y1="837.82" x2="489.75" y2="837.82" stroke="#ececec" stroke-width="0.8"/>
<line x1="470.43" y1="821.08" x2="489.75" y2="821.08" stroke="#ececec" stroke-width="0.8"/>
<line x1="470.43" y1="804.34" x2="489.75" y2="804.34" stroke="#ececec" stroke-width="0.8"/>
<line x1="489.75" y1="854.56" x2="509.06" y2="854.56" stroke="#ececec" stroke-width="0.8"/>
<line x1="489.75" y1="837.82" x2="509.06" y2="837.82" stroke="#ececec" stroke-width="0.8"/>
<line x1="489.75" y1="821.08" x2="509.06" y2="821.08" stroke="#ececec" stroke-width="0.8"/>
<line x1="489.75" y1="804.34" x2="509.06" y2="804.34" stroke="#ececec" stroke-width="0.8"/>
<line x1="509.06" y1="854.56" x2="528.38" y2="854.56" stroke="#ececec" stroke-width="0.8"/>
<line x1="509.06" y1="837.82" x2="528.38" y2="837.82" stroke="#ececec" stroke-width="0.8"/>
<line x1="509.06" y1="821.08" x2="528.38" y2="821.08" stroke="#ececec" stroke-width="0.8"/>
<line x1="509.06" y1="804.34" x2="528.38" y2="804.34" stroke="#ececec" stroke-width="0.8"/>
<line x1="528.38" y1="854.56" x2="547.69" y2="854.56" stroke="#ececec" stroke-width="0.8"/>
<line x1="528.38" y1="837.82" x2="547.69" y2="837.82" stroke="#ececec" stroke-width="0.8"/>
<line x1="528.38" y1="821.08" x2="547.69" y2="821.08" stroke="#ececec" stroke-width="0.8"/>
<line x1="528.38" y1="804.34" x2="547.69" y2="804.34" stroke="#ececec" stroke-width="0.8"/>
<line x1="547.69" y1="854.56" x2="567.00" y2="854.56" stroke="#ececec" stroke-width="0.8"/>
<line x1="547.69" y1="837.82" x2="567.00" y2="837.82" stroke="#ececec" stroke-width="0.8"/>
<line x1="547.69" y1="821.08" x2="567.00" y2="821.08" stroke="#ececec" stroke-width="0.8"/>
<line x1="547.69" y1="804.34" x2="567.00" y2="804.34" stroke="#ececec" stroke-width="0.8"/>
<line x1="567.00" y1="854.56" x2="586.32" y2="854.56" stroke="#ececec" stroke-width="0.8"/>
<line x1="567.00" y1="837.82" x2="586.32" y2="837.82" stroke="#ececec" stroke-width="0.8"/>
<line x1="567.00" y1="821.08" x2="586.32" y2="821.08" stroke="#ececec" stroke-width="0.8"/>
<line x1="567.00" y1="804.34" x2="586.32" y2="804.34" stroke="#ececec" stroke-width="0.8"/>
<line x1="586.32" y1="854.56" x2="605.63" y2="854.56" stroke="#ececec" stroke-width="0.8"/>
<line x1="586.32" y1="837.82" x2="605.63" y2="837.82" stroke="#ececec" stroke-width="0.8"/>
<line x1="586.32" y1="821.08" x2="605.63" y2="821.08" stroke="#ececec" stroke-width="0.8"/>
<line x1="586.32" y1="804.34" x2="605.63" y2="804.34" stroke="#ececec" stroke-width="0.8"/>
<rect x="277.50" y="787.60" width="17.71" height="83.70" fill="#f27b20"/>
<rect x="412.69" y="787.60" width="17.71" height="83.70" fill="#a3cbe9"/>
<rect x="605.83" y="787.60" width="17.71" height="83.70" fill="#1a6eae"/>
<rect x="625.14" y="787.60" width="17.71" height="83.70" fill="#a3a8b4"/>
<rect x="644.46" y="787.60" width="17.71" height="83.70" fill="#a3cbe9"/>
<rect x="663.77" y="787.60" width="17.71" height="83.70" fill="#a3cbe9"/>
<rect x="683.08" y="787.60" width="17.71" height="83.70" fill="#f27b20"/>
<rect x="702.40" y="787.60" width="17.71" height="83.70" fill="#1a6eae"/>
<rect x="721.71" y="787.60" width="17.71" height="83.70" fill="#1a6eae"/>
<rect x="741.02" y="787.60" width="17.71" height="83.70" fill="#1a6eae"/>
<rect x="760.34" y="787.60" width="17.71" height="83.70" fill="#f27b20"/>
<rect x="779.65" y="787.60" width="17.71" height="83.70" fill="#a3cbe9"/>
<rect x="798.96" y="787.60" width="17.71" height="83.70" fill="#f27b20"/>
<rect x="818.28" y="787.60" width="17.71" height="83.70" fill="#a3cbe9"/>
<rect x="837.59" y="787.60" width="17.71" height="83.70" fill="#a3cbe9"/>
<rect x="856.90" y="787.60" width="17.71" height="83.70" fill="#a3a8b4"/>
<rect x="876.22" y="787.60" width="17.71" height="83.70" fill="#1a6eae"/>
<rect x="895.53" y="787.60" width="17.71" height="83.70" fill="#1a6eae"/>
<rect x="914.84" y="787.60" width="17.71" height="83.70" fill="#1a6eae"/>
<rect x="934.16" y="787.60" width="17.71" height="83.70" fill="#f27b20"/>
<rect x="953.47" y="787.60" width="17.71" height="83.70" fill="#a3a8b4"/>
<rect x="972.78" y="787.60" width="17.71" height="83.70" fill="#1a6eae"/>
<rect x="992.10" y="787.60" width="17.71" height="83.70" fill="#a3a8b4"/>
<rect x="1011.41" y="787.60" width="17.71" height="83.70" fill="#a3cbe9"/>
<rect x="1030.73" y="787.60" width="17.71" height="83.70" fill="#f27b20"/>
<rect x="1050.04" y="787.60" width="17.71" height="83.70" fill="#1a6eae"/>
<rect x="1069.35" y="787.60" width="17.71" height="83.70" fill="#a3a8b4"/>
<rect x="1088.67" y="787.60" width="17.71" height="83.70" fill="#a3cbe9"/>
<rect x="1107.98" y="787.60" width="17.71" height="83.70" fill="#a3a8b4"/>
<rect x="1127.29" y="787.60" width="17.71" height="83.70" fill="#1a6eae"/>
<rect x="1146.61" y="787.60" width="17.71" height="83.70" fill="#1a6eae"/>
<rect x="1165.92" y="787.60" width="17.71" height="83.70" fill="#a3cbe9"/>
<rect x="1185.23" y="787.60" width="17.71" height="83.70" fill="#1a6eae"/>
<rect x="1204.55" y="787.60" width="17.71" height="83.70" fill="#a3cbe9"/>
<rect x="1223.86" y="787.60" width="17.71" height="83.70" fill="#1a6eae"/>
<rect x="1243.17" y="787.60" width="17.71" height="83.70" fill="#a3cbe9"/>
<rect x="1262.49" y="787.60" width="17.71" height="83.70" fill="#a3cbe9"/>
<text x="306.07" y="874.40" font-size="30" text-anchor="middle" fill="#505050">*</text>
<text x="325.38" y="874.40" font-size="30" text-anchor="middle" fill="#505050">*</text>
<text x="344.70" y="874.40" font-size="30" text-anchor="middle" fill="#505050">*</text>
<text x="364.01" y="874.40" font-size="30" text-anchor="middle" fill="#505050">*</text>
<text x="383.32" y="874.40" font-size="30" text-anchor="middle" fill="#505050">*</text>
<text x="402.64" y="874.40" font-size="30" text-anchor="middle" fill="#505050">*</text>
<text x="441.26" y="874.40" font-size="30" text-anchor="middle" fill="#505050">*</text>
<text x="460.58" y="874.40" font-size="30" text-anchor="middle" fill="#505050">*</text>
<text x="479.89" y="874.40" font-size="30" text-anchor="middle" fill="#505050">*</text>
<text x="499.20" y="874.40" font-size="30" text-anchor="middle" fill="#505050">*</text>
<text x="518.52" y="874.40" font-size="30" text-anchor="middle" fill="#505050">*</text>
<text x="537.83" y="874.40" font-size="30" text-anchor="middle" fill="#505050">*</text>
<text x="557.15" y="874.40" font-size="30" text-anchor="middle" fill="#505050">*</text>
<text x="576.46" y="874.40" font-size="30" text-anchor="middle" fill="#505050">*</text>
<text x="595.77" y="874.40" font-size="30" text-anchor="middle" fill="#505050">*</text>
<rect x="741.02" y="539.5" width="17.71" height="3.4" fill="#1a6eae"/>
<line x1="91" y1="621.20" x2="277.30" y2="621.20" stroke="#d0d0d0" stroke-width="1"/>
<line x1="277.30" y1="621.20" x2="1281.60" y2="621.20" stroke="#d8e6f0" stroke-width="1"/>
<line x1="91" y1="704.90" x2="277.30" y2="704.90" stroke="#d0d0d0" stroke-width="1"/>
<line x1="277.30" y1="704.90" x2="1281.60" y2="704.90" stroke="#d8e6f0" stroke-width="1"/>
<line x1="91" y1="787.60" x2="277.30" y2="787.60" stroke="#d0d0d0" stroke-width="1"/>
<line x1="277.30" y1="787.60" x2="1281.60" y2="787.60" stroke="#d8e6f0" stroke-width="1"/>
<line x1="91" y1="871.30" x2="277.30" y2="871.30" stroke="#d0d0d0" stroke-width="1"/>
<line x1="277.30" y1="871.30" x2="1281.60" y2="871.30" stroke="#d8e6f0" stroke-width="1"/>
<line x1="170" y1="694.5" x2="189" y2="694.5" stroke="#e6e6e6" stroke-width="1.2"/>
<line x1="91" y1="538.5" x2="277.30" y2="538.5" stroke="#d0d0d0" stroke-width="1"/>
<line x1="277.30" y1="539.2" x2="1281.60" y2="539.2" stroke="#111" stroke-width="1.6"/>
<text x="270.6" y="545.00" font-size="7.3" text-anchor="end" fill="#666">1.0</text>
<text x="270.6" y="582.40" font-size="7.3" text-anchor="end" fill="#666">0.5</text>
<text x="270.6" y="619.60" font-size="7.3" text-anchor="end" fill="#666">0.0</text>
<text transform="translate(246.4 578.50) rotate(-90)" font-size="7.5" text-anchor="middle" fill="#444">Allele Frequency</text>
<text x="270.6" y="627.20" font-size="7.3" text-anchor="end" fill="#666">1.0</text>
<text x="270.6" y="665.35" font-size="7.3" text-anchor="end" fill="#666">0.5</text>
<text x="270.6" y="703.30" font-size="7.3" text-anchor="end" fill="#666">0.0</text>
<text transform="translate(246.4 661.45) rotate(-90)" font-size="7.5" text-anchor="middle" fill="#444">Allele Frequency</text>
<text x="270.6" y="710.90" font-size="7.3" text-anchor="end" fill="#666">1.0</text>
<text x="270.6" y="748.55" font-size="7.3" text-anchor="end" fill="#666">0.5</text>
<text x="270.6" y="786.00" font-size="7.3" text-anchor="end" fill="#666">0.0</text>
<text transform="translate(246.4 744.65) rotate(-90)" font-size="7.5" text-anchor="middle" fill="#444">Allele Frequency</text>
<text x="270.6" y="793.60" font-size="7.3" text-anchor="end" fill="#666">1.0</text>
<text x="270.6" y="831.75" font-size="7.3" text-anchor="end" fill="#666">0.5</text>
<text x="270.6" y="869.70" font-size="7.3" text-anchor="end" fill="#666">0.0</text>
<text transform="translate(246.4 827.85) rotate(-90)" font-size="7.5" text-anchor="middle" fill="#444">Allele Frequency</text>
<text x="208.5" y="582" font-size="14.1" text-anchor="end" fill="#111">EPI_ISL_6811176</text>
<text x="208.5" y="600" font-size="14.1" text-anchor="end" fill="#111">AY.119.2</text>
<text x="208.5" y="670" font-size="14.1" text-anchor="end" fill="#111">EPI_ISL_8981459</text>
<text x="208.5" y="751.8" font-size="14.1" text-anchor="end" fill="#111">EPI_ISL_8981824</text>
<text x="208.5" y="825" font-size="14.1" text-anchor="end" fill="#111">EPI_ISL_9351600</text>
<text x="208.5" y="842.2" font-size="14.1" text-anchor="end" fill="#111">BA.1.1</text>
<text transform="translate(292.26 873.5) rotate(-90)" font-size="15.2" text-anchor="end" fill="#555">21618</text>
<text transform="translate(311.57 873.5) rotate(-90)" font-size="15.2" text-anchor="end" fill="#555">21765</text>
<text transform="translate(330.88 873.5) rotate(-90)" font-size="15.2" text-anchor="end" fill="#555">21766</text>
<text transform="translate(350.20 873.5) rotate(-90)" font-size="15.2" text-anchor="end" fill="#555">21767</text>
<text transform="translate(369.51 873.5) rotate(-90)" font-size="15.2" text-anchor="end" fill="#555">21768</text>
<text transform="translate(388.82 873.5) rotate(-90)" font-size="15.2" text-anchor="end" fill="#555">21769</text>
<text transform="translate(408.14 873.5) rotate(-90)" font-size="15.2" text-anchor="end" fill="#555">21770</text>
<text transform="translate(427.45 873.5) rotate(-90)" font-size="15.2" text-anchor="end" fill="#555">21846</text>
<text transform="translate(446.76 873.5) rotate(-90)" font-size="15.2" text-anchor="end" fill="#555">21987</text>
<text transform="translate(466.08 873.5) rotate(-90)" font-size="15.2" text-anchor="end" fill="#555">21988</text>
<text transform="translate(485.39 873.5) rotate(-90)" font-size="15.2" text-anchor="end" fill="#555">21989</text>
<text transform="translate(504.70 873.5) rotate(-90)" font-size="15.2" text-anchor="end" fill="#555">21990</text>
<text transform="translate(524.02 873.5) rotate(-90)" font-size="15.2" text-anchor="end" fill="#555">21991</text>
<text transform="translate(543.33 873.5) rotate(-90)" font-size="15.2" text-anchor="end" fill="#555">21992</text>
<text transform="translate(562.65 873.5) rotate(-90)" font-size="15.2" text-anchor="end" fill="#555">21993</text>
<text transform="translate(581.96 873.5) rotate(-90)" font-size="15.2" text-anchor="end" fill="#555">21994</text>
<text transform="translate(601.27 873.5) rotate(-90)" font-size="15.2" text-anchor="end" fill="#555">21995</text>
<text transform="translate(620.59 873.5) rotate(-90)" font-size="15.2" text-anchor="end" fill="#555">22029</text>
<text transform="translate(639.90 873.5) rotate(-90)" font-size="15.2" text-anchor="end" fill="#555">22030</text>
<text transform="translate(659.21 873.5) rotate(-90)" font-size="15.2" text-anchor="end" fill="#555">22031</text>
<text transform="translate(678.53 873.5) rotate(-90)" font-size="15.2" text-anchor="end" fill="#555">22032</text>
<text transform="translate(697.84 873.5) rotate(-90)" font-size="15.2" text-anchor="end" fill="#555">22033</text>
<text transform="translate(717.15 873.5) rotate(-90)" font-size="15.2" text-anchor="end" fill="#555">22034</text>
<text transform="translate(736.47 873.5) rotate(-90)" font-size="15.2" text-anchor="end" fill="#555">22578</text>
<text transform="translate(755.78 873.5) rotate(-90)" font-size="15.2" text-anchor="end" fill="#555">22599</text>
<text transform="translate(775.09 873.5) rotate(-90)" font-size="15.2" text-anchor="end" fill="#555">22673</text>
<text transform="translate(794.41 873.5) rotate(-90)" font-size="15.2" text-anchor="end" fill="#555">22674</text>
<text transform="translate(813.72 873.5) rotate(-90)" font-size="15.2" text-anchor="end" fill="#555">22679</text>
<text transform="translate(833.03 873.5) rotate(-90)" font-size="15.2" text-anchor="end" fill="#555">22686</text>
<text transform="translate(852.35 873.5) rotate(-90)" font-size="15.2" text-anchor="end" fill="#555">22813</text>
<text transform="translate(871.66 873.5) rotate(-90)" font-size="15.2" text-anchor="end" fill="#555">22882</text>
<text transform="translate(890.97 873.5) rotate(-90)" font-size="15.2" text-anchor="end" fill="#555">22898</text>
<text transform="translate(910.29 873.5) rotate(-90)" font-size="15.2" text-anchor="end" fill="#555">22992</text>
<text transform="translate(929.60 873.5) rotate(-90)" font-size="15.2" text-anchor="end" fill="#555">22995</text>
<text transform="translate(948.91 873.5) rotate(-90)" font-size="15.2" text-anchor="end" fill="#555">23013</text>
<text transform="translate(968.23 873.5) rotate(-90)" font-size="15.2" text-anchor="end" fill="#555">23040</text>
<text transform="translate(987.54 873.5) rotate(-90)" font-size="15.2" text-anchor="end" fill="#555">23048</text>
<text transform="translate(1006.85 873.5) rotate(-90)" font-size="15.2" text-anchor="end" fill="#555">23055</text>
<text transform="translate(1026.17 873.5) rotate(-90)" font-size="15.2" text-anchor="end" fill="#555">23063</text>
<text transform="translate(1045.48 873.5) rotate(-90)" font-size="15.2" text-anchor="end" fill="#555">23075</text>
<text transform="translate(1064.80 873.5) rotate(-90)" font-size="15.2" text-anchor="end" fill="#555">23202</text>
<text transform="translate(1084.11 873.5) rotate(-90)" font-size="15.2" text-anchor="end" fill="#555">23403</text>
<text transform="translate(1103.42 873.5) rotate(-90)" font-size="15.2" text-anchor="end" fill="#555">23525</text>
<text transform="translate(1122.74 873.5) rotate(-90)" font-size="15.2" text-anchor="end" fill="#555">23599</text>
<text transform="translate(1142.05 873.5) rotate(-90)" font-size="15.2" text-anchor="end" fill="#555">23604</text>
<text transform="translate(1161.36 873.5) rotate(-90)" font-size="15.2" text-anchor="end" fill="#555">23854</text>
<text transform="translate(1180.68 873.5) rotate(-90)" font-size="15.2" text-anchor="end" fill="#555">23948</text>
<text transform="translate(1199.99 873.5) rotate(-90)" font-size="15.2" text-anchor="end" fill="#555">24130</text>
<text transform="translate(1219.30 873.5) rotate(-90)" font-size="15.2" text-anchor="end" fill="#555">24424</text>
<text transform="translate(1238.62 873.5) rotate(-90)" font-size="15.2" text-anchor="end" fill="#555">24469</text>
<text transform="translate(1257.93 873.5) rotate(-90)" font-size="15.2" text-anchor="end" fill="#555">24503</text>
<text transform="translate(1277.24 873.5) rotate(-90)" font-size="15.2" text-anchor="end" fill="#555">25000</text>
<text x="760" y="938.5" font-size="15.7" fill="#222">Variant Position</text>
<text x="1326.5" y="567.5" font-size="15" fill="#222">allele</text>
<rect x="1328.2" y="573.20" width="11" height="9.6" fill="#1a6eae"/>
<text x="1343" y="582.80" font-size="12.8" fill="#222">A</text>
<rect x="1328.2" y="589.05" width="11" height="9.6" fill="#f27b20"/>
<text x="1343" y="598.65" font-size="12.8" fill="#222">C</text>
<rect x="1328.2" y="604.90" width="11" height="9.6" fill="#a3a8b4"/>
<text x="1343" y="614.50" font-size="12.8" fill="#222">G</text>
<rect x="1328.2" y="620.75" width="11" height="9.6" fill="#a3cbe9"/>
<text x="1343" y="630.35" font-size="12.8" fill="#222">T</text>
</svg></body></html>
